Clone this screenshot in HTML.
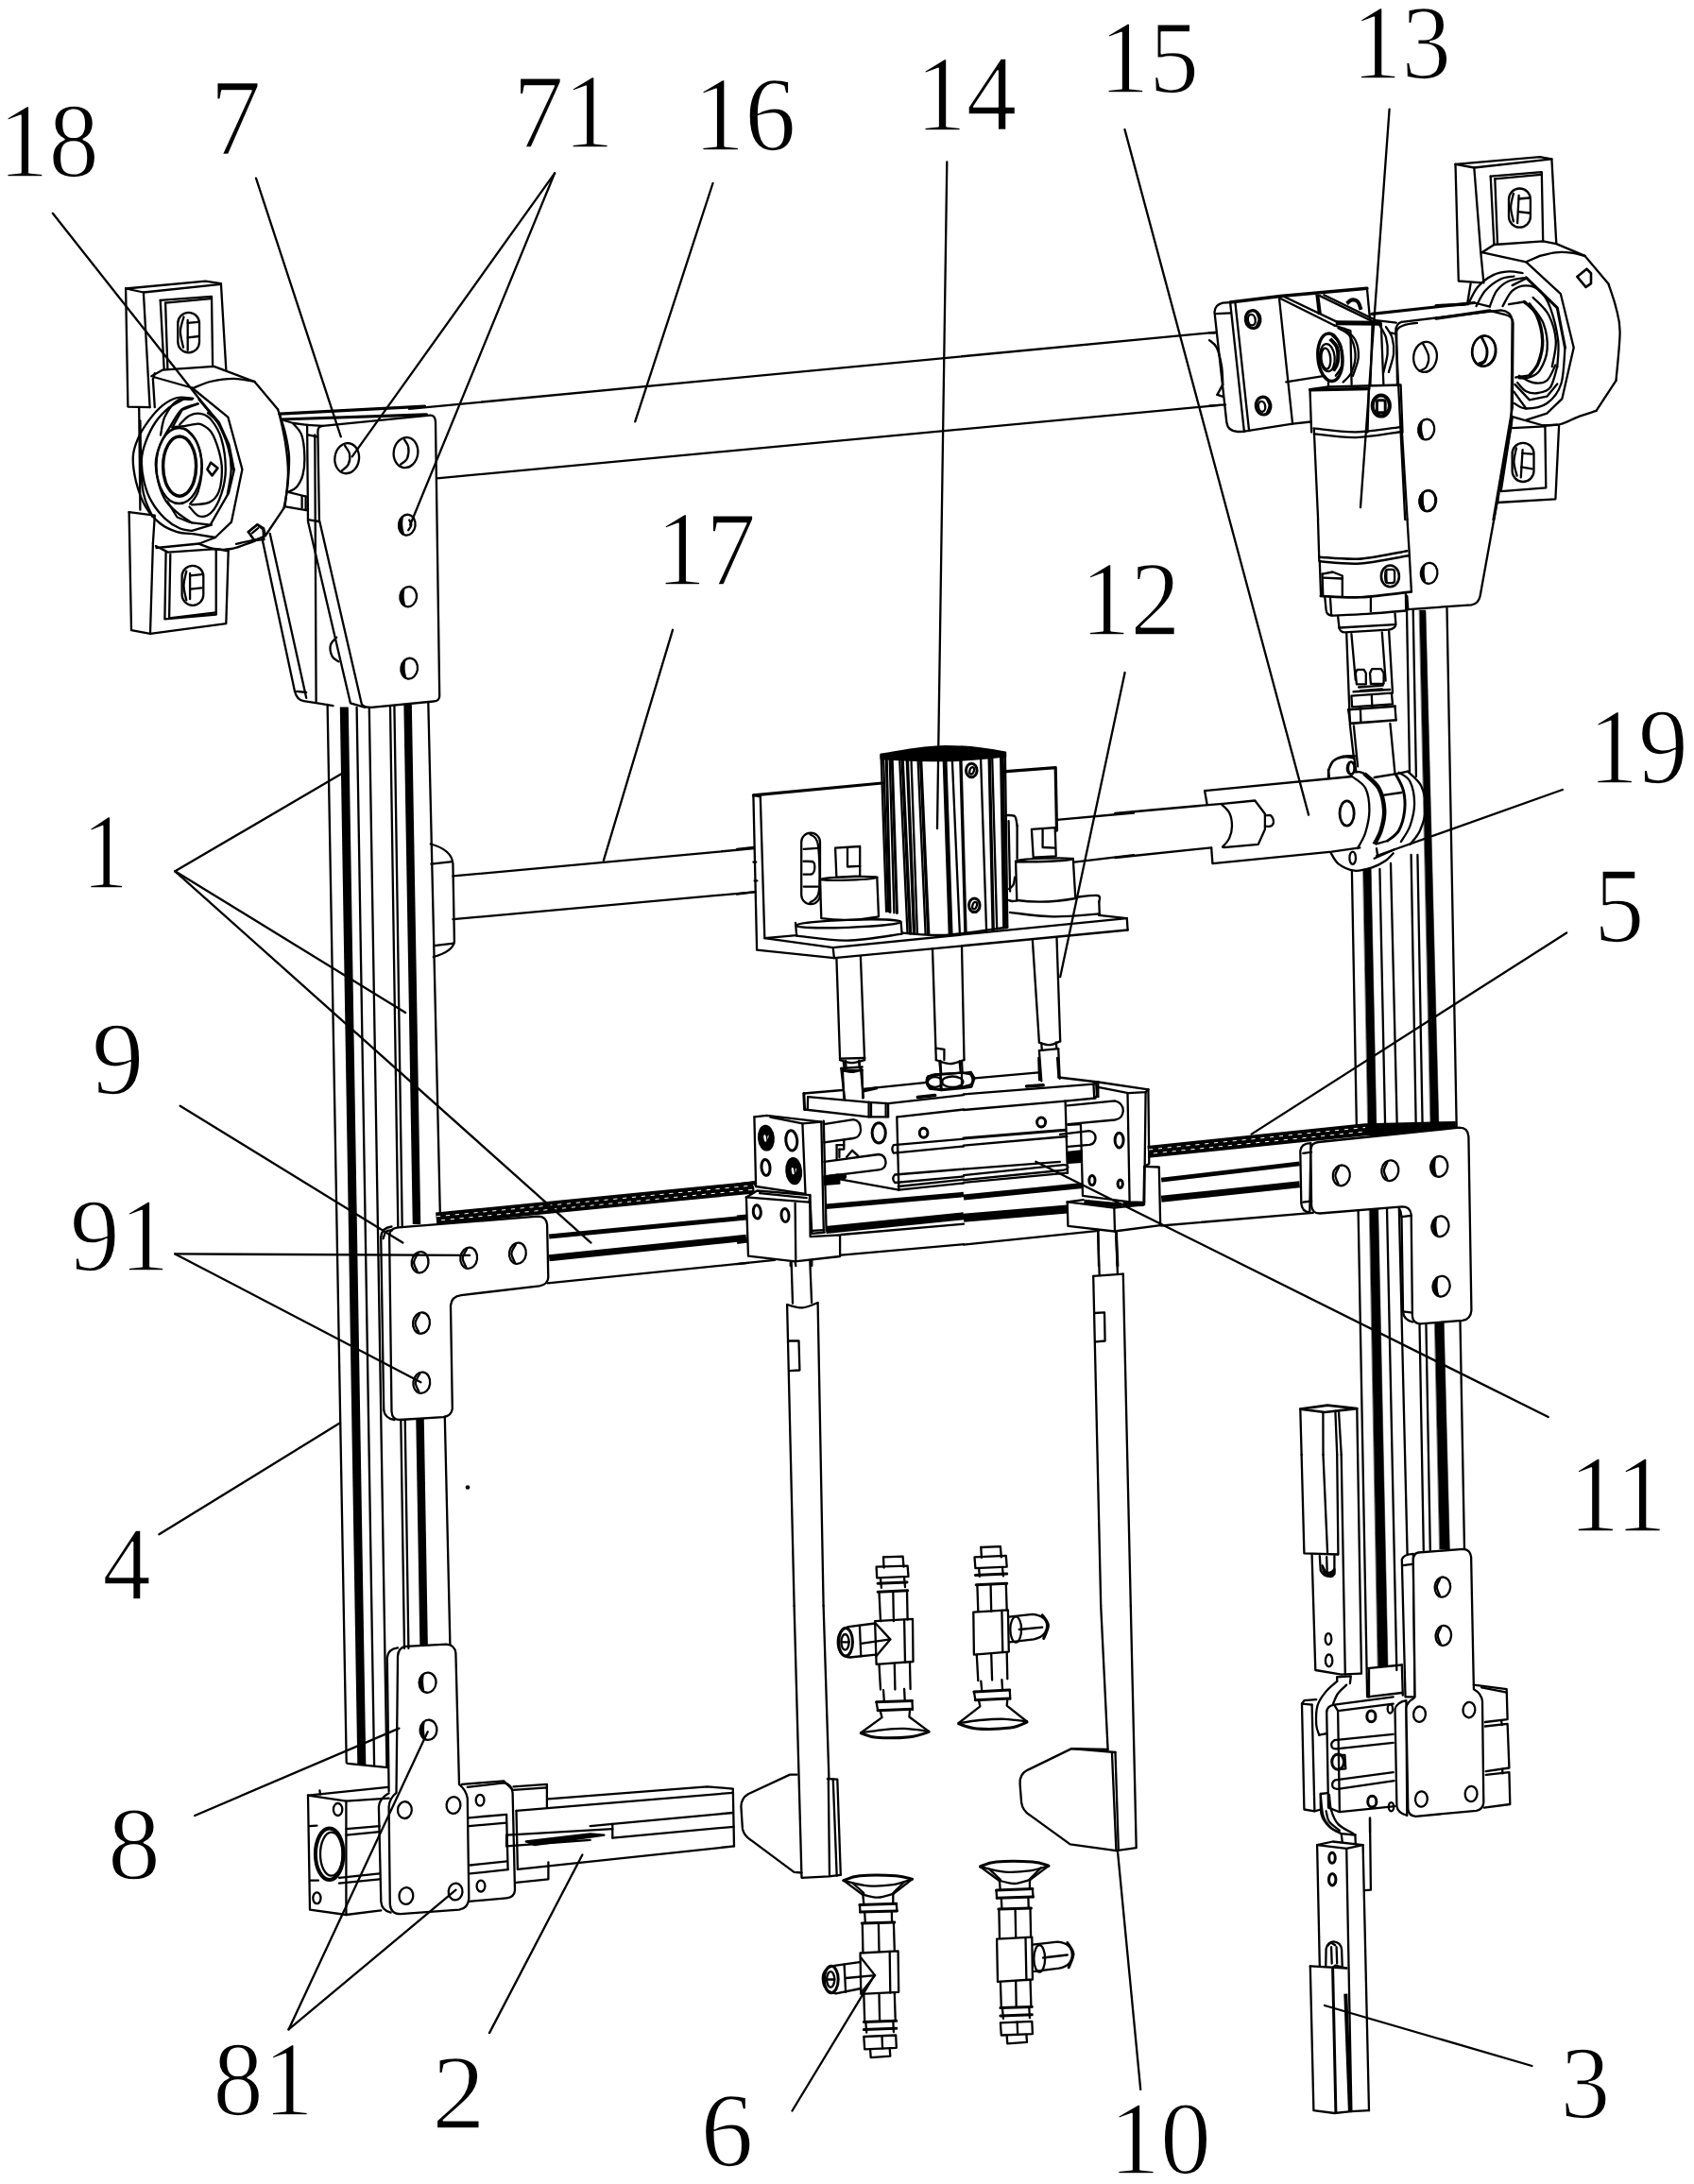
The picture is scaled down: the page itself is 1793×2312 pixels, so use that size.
<!DOCTYPE html>
<html><head><meta charset="utf-8"><title>Figure</title><style>
html,body{margin:0;padding:0;background:#fff}
svg{display:block}
text{font-family:"Liberation Serif",serif;fill:#000;stroke:#fff;stroke-width:1.7px}
</style></head><body>
<svg width="1793" height="2312" viewBox="0 0 1793 2312" fill="none" stroke="#000" stroke-width="2.3" stroke-linecap="round" stroke-linejoin="round">
<!-- 00_long.txt -->
<path d="M433,432.9 L1287.6,351.7"/>
<path d="M462.5,506.3 L1291,428.9"/>
<!-- 01_colL.txt -->
<path d="M346.6,746 L366.7,1866"/>
<path d="M364.3,748.5 L382.8,1868" stroke-width="9" stroke-linecap="butt"/>
<path d="M377.6,749 L396.1,1869"/>
<path d="M390.8,749 L409.4,1870"/>
<path d="M413,747.5 L421.3,1299"/>
<path d="M424.3,1503 L428,1745"/>
<path d="M417.4,747 L425.7,1299"/>
<path d="M428.7,1503 L432.4,1745"/>
<path d="M431.6,745.5 L441,1296" stroke-width="8.5" stroke-linecap="butt"/>
<path d="M444.5,1501 L448.6,1741" stroke-width="8.5" stroke-linecap="butt"/>
<path d="M453.3,743.5 L465.9,1288"/>
<path d="M470.8,1500 L476.4,1741"/>
<path d="M367.9,1866.8 L410.7,1871.2"/>
<!-- 02_colR.txt -->
<path d="M1430.9,922 L1435.9,1194"/>
<path d="M1437.6,1281.5 L1447.1,1795"/>
<path d="M1442.9,920 L1451.2,920 L1456.9,1193 L1448,1193Z" stroke-width="0.5" fill="#000"/>
<path d="M1449.6,1280 L1458.8,1280 L1469,1764 L1458.5,1764Z" stroke-width="0.5" fill="#000"/>
<path d="M1460.4,920 L1466.1,1192"/>
<path d="M1468,1279 L1478.3,1768"/>
<path d="M1472,914 L1478.7,1191"/>
<path d="M1480.8,1278 L1489.7,1650"/>
<path d="M1489,646 L1492,817"/>
<path d="M1493.6,905 L1498.8,1197"/>
<path d="M1502.5,1401 L1506.8,1641"/>
<path d="M1495.7,646 L1498.9,822"/>
<path d="M1500.4,905 L1505.7,1196"/>
<path d="M1509.4,1401 L1513.8,1641"/>
<path d="M1502.5,646 L1509,646 L1523,1195 L1514.3,1195Z" stroke-width="0.5" fill="#000"/>
<path d="M1518.7,1400 L1528.3,1400 L1534.4,1640 L1523.9,1640Z" stroke-width="0.5" fill="#000"/>
<path d="M1531.5,644 L1541.7,1194"/>
<path d="M1545.5,1399 L1550,1640"/>
<!-- 10_bearingL.txt -->
<path d="M160.3,398.2 L171.9,391.7 L226.5,387.8 L269.4,404 L294,433.2"/>
<path d="M164.2,399.5 L203.1,410.5"/>
<path d="M204.4,410.9 C207.4,409.8 215.5,405.7 222.6,404 C229.7,402.3 239.5,400.8 247.3,400.8 C255.1,400.8 265.7,403.5 269.4,404"/>
<path d="M203.1,410.5 L241.4,441.7 L256.4,496.9 L244.9,552.7 L227.8,569 L210.9,575.5 L165.5,580"/>
<path d="M210.9,422.9 L231.7,447.5 L242.1,470.9 L247.3,496.9" stroke-width="3"/>
<path d="M294,433.2 C295.3,437.4 299.8,449.5 301.8,457.9 C303.8,466.4 305.6,474.2 306,483.9 C306.4,493.6 305.1,507.4 304.2,516.4 C303.2,525.3 301.1,534.2 300.5,537.8"/>
<path d="M300.5,537.8 L281,567"/>
<path d="M210.9,575.8 C213.5,576.7 220.9,580.2 226.5,581 C232.1,581.9 238,582.3 244.7,581 C251.4,579.8 262,575.5 266.8,573.8 C271.5,572.1 272.2,571.4 273.2,570.9"/>
<path d="M262.9,563.1 L272.6,555.3 L279.1,559.2 L281,567"/>
<path d="M262.9,563.1 L269.4,572.2 L281,567"/>
<path d="M266.8,564.4 L273.2,559.2"/>
<path d="M204.4,421.8 C201.6,421.7 192.9,419.8 187.5,421 C182.1,422.3 176.9,425.4 171.9,429.4 C167,433.3 162,439.1 157.7,444.9 C153.3,450.8 148.8,457.9 146,464.4 C143.2,470.9 141.1,476.3 140.8,483.9 C140.5,491.5 141.9,501.2 144,509.9 C146.2,518.5 149.5,528.5 153.8,535.8 C158,543.2 163.7,549.5 169.4,554 C175,558.6 181.7,561.3 187.5,563.1 C193.4,565 201.6,564.7 204.4,565.1"/>
<path d="M204.4,565.1 L227.8,569"/>
<path d="M192.7,423.5 C190.3,424.9 183.2,427.9 178.4,431.9 C173.7,436 168.2,441.5 164.2,447.5 C160.1,453.6 156.4,461.8 154,468.3 C151.6,474.8 150.1,479.6 149.9,486.5 C149.6,493.4 150.7,502.5 152.5,509.9 C154.2,517.2 156.6,524.2 160.3,530.6 C163.9,537.1 169.6,544.1 174.5,548.8 C179.5,553.6 185.4,557.1 190.1,559.2 C194.9,561.4 201,561.4 203.1,561.8"/>
<path d="M203.1,561.8 L223.9,555.6"/>
<path d="M209.6,427.4 C206.8,428.4 197.5,429.5 192.7,433.2 C188,437 184.9,443.9 181,450.1 C177.1,456.4 172.1,464.2 169.4,470.9 C166.6,477.6 165,483.5 164.8,490.4 C164.6,497.3 166.2,505.8 168.1,512.5 C169.9,519.2 172.4,525.5 175.8,530.6 C179.3,535.8 184.3,539.8 188.8,543.6 C193.4,547.4 200.7,551.8 203.1,553.4"/>
<path d="M203.1,553.4 L222.6,555.6 L242.1,521.6 L247.9,496.9"/>
<path d="M182.3,452.7 L192.7,433.9 L209.6,427.4"/>
<path d="M203.1,422.9 C200.5,423.1 192.3,421.1 187.5,424.2 C182.8,427.2 177.5,435 174.5,441 C171.6,447.1 170.8,457.3 170,460.5"/>
<path d="M177.1,530.6 L187.5,547.5 L200.5,552.7"/>
<path d="M190.1,449.5 C191.9,447.9 196.6,441.9 200.5,440 C204.4,438.1 209.6,437.2 213.5,438.1 C217.4,438.9 220.4,440.5 223.9,444.9 C227.4,449.3 231.8,455.8 234.3,464.4 C236.8,473.1 238.8,487.1 238.8,496.9 C238.8,506.6 236.8,515.3 234.3,522.9 C231.8,530.4 227.8,538.4 223.9,542.3 C220,546.3 214.8,547.5 210.9,546.5 C207,545.5 202.3,538.2 200.5,536.5"/>
<path d="M220,437.1 C221.7,438.9 226.8,441.5 230.4,447.5 C234,453.6 239,465.3 241.4,473.5 C243.8,481.7 244.8,488.7 244.7,496.9 C244.6,505.1 241.4,518.5 240.8,522.9"/>
<ellipse cx="189.5" cy="493" rx="24" ry="40"/>
<ellipse cx="190.1" cy="493.6" rx="17.5" ry="31.6" stroke-width="3.4"/>
<path d="M182.3,452.2 L194.7,451.2"/>
<path d="M194.7,451.2 C196.5,450.8 202.6,449.4 205.7,449.1 C208.9,448.8 210.5,448 213.5,449.5 C216.5,451 220.9,453.3 223.9,457.9 C226.9,462.6 229.8,470.9 231.7,477.4 C233.5,483.9 234.9,489.7 234.9,496.9 C234.9,504 234,514.4 231.7,520.3 C229.4,526.1 226.1,529.6 221.3,531.9 C216.5,534.3 206.1,533.9 203.1,534.3"/>
<path d="M196.6,454.3 C198.6,456.6 205.5,461.9 208.3,468.3 C211.2,474.8 213.5,484.3 213.8,493 C214,501.6 211.7,513.5 209.6,520.3 C207.5,527 202.6,531.3 201.2,533.5"/>
<path d="M223.2,489.7 L230.4,495.6 L224.5,503.4 L219.4,496.9Z" stroke-width="2.6"/>
<!-- 11_mountL.txt -->
<path d="M133.1,305.5 L217.4,297.7 L233.9,300.1 L239.3,391"/>
<path d="M133.1,305.5 L135.4,430.6 L158.6,431.1"/>
<path d="M133.1,305.5 L151.9,309.5 L233.9,300.8"/>
<path d="M151.9,309.5 L158.6,431.1"/>
<path d="M169.7,317.8 L224,313.8 L225.1,386.7"/>
<path d="M169.7,317.8 L173.7,391"/>
<path d="M175.1,320.6 L223.3,316.1"/>
<path d="M175.1,320.6 L177.4,390.5"/>
<rect x="188.3" y="330.8" width="22.7" height="42.5" rx="11.3"/>
<path d="M198.7,339 L198.7,370.9"/>
<path d="M198.7,341.9 L210.5,340.9"/>
<path d="M198.7,357.4 L210.5,356"/>
<path d="M194.5,335.5 C193.9,338 191,345.4 190.9,350.8 C190.8,356.2 193.5,365 194,367.8"/>
<path d="M161.9,401.6 L163.8,431.1"/>
<path d="M163.8,395.2 L161.9,401.6"/>
<path d="M147.2,431.1 L148.4,539.7"/>
<path d="M148.4,445.3 C148.8,457.1 148.6,499.2 150.8,516.1 C152.9,533 159.6,541.7 161.4,546.8"/>
<path d="M136.6,542.1 L163.8,545.6 L161.9,575.2"/>
<path d="M136.6,542.1 L139,667.2 L159,670.8 L239.3,660.2 L241.7,583.4"/>
<path d="M159,670.8 L161.9,575.2"/>
<path d="M164.9,578 L177.9,584.6 L228.7,581.1 L241.7,583.4"/>
<path d="M175.6,584.6 L174.4,655.4 L228.7,650.7 L228.7,581.1"/>
<path d="M180.3,587 L179.1,654.3"/>
<path d="M179.1,654.3 L228.7,648.4"/>
<rect x="192.6" y="598.8" width="22.7" height="42" rx="11.3"/>
<path d="M201.1,607 L201.1,634.2"/>
<path d="M201.1,609.4 L213.3,608.2"/>
<path d="M201.1,623.6 L213.3,622.4"/>
<path d="M197.3,604.7 C196.8,607.2 194.5,614.9 194.5,620 C194.5,625.1 196.8,632.8 197.3,635.4"/>
<!-- 12_plate7.txt -->
<path d="M295.8,438.1 L449.6,430.2" stroke-width="3.2"/>
<path d="M297.3,444 L451.5,438.8" stroke-width="3.2"/>
<path d="M341.6,450.9 L455.1,439.7 Q460.6,439.4 461,446.7 L465.2,736.1 Q465.6,742.1 458.8,742.5 L392.9,748.9 Q384.6,748.9 382.8,745.2 L337.9,550.2 L336.4,456.8 Q336.4,451.3 341.6,450.9"/>
<path d="M325.1,449.8 L326,552 L370.9,744.3 L386.4,748.9"/>
<path d="M333.3,460.4 L334.6,742.5"/>
<path d="M326,460.4 L336.1,462.3"/>
<path d="M326,550.2 L337.5,552"/>
<path d="M325.1,449.8 L341.6,450.9"/>
<path d="M310.4,448 L325.1,449.8"/>
<path d="M277.5,570.3 L311.9,731.5"/>
<path d="M285.7,564.8 L324.2,738.8"/>
<path d="M311.9,731.5 Q314.1,741 321.4,742.1 L336.1,744.3 L352.6,747.1"/>
<path d="M314.1,731.9 L324.2,733"/>
<path d="M310.4,448.5 C311.9,450.5 317.2,454.8 319.2,460.4 C321.2,466.1 322.1,475.4 322.3,482.4 C322.6,489.4 321.9,497.1 320.5,502.6 C319.1,508.1 316.7,512.3 314.1,515.4 C311.5,518.4 306.5,520 304.9,520.9"/>
<path d="M304.9,520.9 L323.6,525.5"/>
<path d="M302.2,536.4 L324.2,540.1"/>
<path d="M319.6,525.5 L319.6,537.4"/>
<path d="M323.6,525.5 L323.6,540.1"/>
<path d="M297.3,444 L310.4,448"/>
<path d="M295.8,438.5 C296.9,443.7 300.7,459.2 302.2,469.6 C303.7,480 305,489.7 304.9,500.7 C304.9,511.8 302.2,530 301.6,535.9"/>
<path d="M250,575.8 L273.8,570.7"/>
<ellipse cx="367.2" cy="485.2" rx="12.8" ry="16.1" transform="rotate(8 367.2 485.2)"/>
<path d="M365,471.8 C365.8,473.3 369.4,477.3 370,480.6 C370.6,483.9 370.1,488.6 368.7,491.6 C367.3,494.5 362.9,497.2 361.7,498.4"/>
<ellipse cx="429.5" cy="479.1" rx="12.8" ry="16.1" transform="rotate(8 429.5 479.1)"/>
<path d="M427.3,464.5 C428.1,465.9 431.6,469.8 432.2,473.3 C432.8,476.7 432.3,482.1 431,485.2 C429.6,488.2 425.2,490.5 424,491.6"/>
<ellipse cx="430.8" cy="555.7" rx="8.8" ry="11" transform="rotate(8 430.8 555.7)"/>
<ellipse cx="432.2" cy="631.7" rx="8.8" ry="10.6" transform="rotate(8 432.2 631.7)"/>
<ellipse cx="433.2" cy="707.7" rx="8.8" ry="11" transform="rotate(8 433.2 707.7)"/>
<path d="M425.8,547.4 Q419.4,555.7 426.7,564.5 Q424,555.7 425.8,547.4 Z" fill="#000"/>
<path d="M427.3,623.8 Q421.2,631.7 428,640.3 Q425.5,631.7 427.3,623.8 Z" fill="#000"/>
<path d="M428.2,699.8 Q422.2,707.7 428.9,716.3 Q426.4,707.7 428.2,699.8 Z" fill="#000"/>
<path d="M433.2,550.5 C433.5,551.4 435.5,553.9 435.3,555.7 C435.2,557.4 432.8,560.3 432.2,561.2"/>
<path d="M356.2,674.7 C355.2,676.1 350.6,679.6 349.8,683 C349.1,686.3 350.2,692 351.6,694.9 C353.1,697.8 357.3,699.5 358.4,700.4"/>
<path d="M262.8,563 L272,555.3 L278.4,560.3 L279.3,571.2"/>
<path d="M262.8,563 L269.2,572.2 L279.3,571.2"/>
<!-- 20_bearingR.txt -->
<path d="M1540.5,173.8 L1629.9,166.1 L1642.4,168.3 L1647.3,258.1"/>
<path d="M1540.5,173.8 L1543.8,297.5 L1568.6,299.3"/>
<path d="M1540.5,173.8 L1560.3,177.5 L1642.4,168.3"/>
<path d="M1560.3,177.5 L1567.3,267.3 L1570.4,299.3"/>
<path d="M1577.7,186.6 L1631.8,182.1 L1633.2,255.3"/>
<path d="M1577.7,186.6 L1581.4,259"/>
<path d="M1582.3,189.4 L1630.8,184.8"/>
<path d="M1582.3,189.4 L1585,258.1"/>
<rect x="1597" y="199.5" width="22.9" height="41.2" rx="11.4"/>
<path d="M1607.6,206.8 L1606.1,236.1"/>
<path d="M1607.6,210.5 L1618.9,209.5"/>
<path d="M1607,224.2 L1618.9,225.5"/>
<path d="M1601.9,205 C1601.4,207.4 1599.1,214.7 1599.1,219.6 C1599.1,224.5 1601.4,231.8 1601.9,234.3"/>
<path d="M1568.6,267.3 L1581.4,259 L1633.2,255.3 L1647.3,258.1 L1677.6,270.9 L1702.3,300.2"/>
<path d="M1569.5,267.3 L1615.3,277.3 L1629.9,270.9"/>
<path d="M1629.9,270.9 C1632.7,270.3 1640.9,267.8 1646.4,267.3 C1651.9,266.7 1657.7,267 1662.9,267.6 C1668.1,268.2 1675.1,270.4 1677.6,270.9"/>
<path d="M1702.3,300.2 C1703.7,304.5 1708.5,317.3 1710.5,325.9 C1712.6,334.4 1714.6,338.7 1714.6,351.5 C1714.6,364.4 1711.2,394.3 1710.5,402.8"/>
<path d="M1710.5,402.8 L1689.5,434.9"/>
<path d="M1689.5,434.9 C1686.3,436 1676.5,439 1670.2,441.3 C1664,443.7 1658,447.5 1651.9,449 C1645.8,450.5 1636.6,450.2 1633.6,450.5"/>
<path d="M1601.5,441.3 L1633.6,450.5 L1648.3,449.7"/>
<path d="M1615.3,277.3 L1651.9,311.2 L1665.7,368 L1653.4,422.1 L1637.3,437.7 L1615.3,444.6"/>
<path d="M1669.3,292.9 L1679.4,284.7 L1684,289.2 L1684,300.2 L1678.5,303.9Z" stroke-width="2.6"/>
<path d="M1553,322.2 L1556.6,300.2"/>
<path d="M1553.9,322.2 C1555.6,319.2 1559.5,309.1 1564,303.9 C1568.4,298.7 1575,293.8 1580.5,291.1 C1586,288.3 1591.8,287.7 1597,287.4 C1602.1,287.1 1609.2,288.9 1611.6,289.2"/>
<path d="M1562.5,324.1 C1564.1,321.3 1568,312.3 1572.2,307.6 C1576.4,302.8 1582.8,298.2 1587.8,295.7 C1592.8,293.2 1600,293.1 1602.4,292.5"/>
<path d="M1576.8,324.4 C1578,321.7 1580.8,312.4 1584.1,307.9 C1587.5,303.4 1591.8,299.8 1597,297.5 C1602.1,295.1 1612.2,294.4 1615.3,293.8"/>
<path d="M1600.6,302.1 L1615.3,294.7"/>
<path d="M1615.3,293.8 L1648.3,325.9 L1656.5,368" stroke-width="3"/>
<path d="M1590.5,324.1 C1592.2,321.4 1596.5,311.5 1600.6,307.9 C1604.7,304.3 1610.4,302.4 1615.3,302.4 C1620.2,302.4 1625.7,304 1629.9,307.9 C1634.2,311.8 1637.7,317.1 1640.9,325.9 C1644.1,334.7 1647.9,350.3 1649.2,360.7 C1650.4,371.1 1648.4,383.6 1648.3,388.2"/>
<path d="M1656.5,368 C1655.8,374.4 1655.5,396.7 1652.3,406.5 C1649.1,416.3 1643.4,422.7 1637.3,427 C1631.1,431.4 1621,432.5 1615.3,432.5 C1609.5,432.5 1604.9,427.9 1602.8,427"/>
<path d="M1648.3,388.2 C1647,391.8 1644.3,405.5 1640.9,410.2 C1637.6,414.8 1632.4,415.4 1628.1,416 C1623.8,416.7 1618.9,416 1615.3,414.2 C1611.6,412.4 1607.6,406.6 1606.1,405"/>
<path d="M1646.4,386.4 C1644.9,389.1 1641.2,399.7 1637.3,402.8 C1633.3,406 1627.5,405.9 1622.6,405 C1617.7,404.2 1610.4,398.9 1607.9,397.7"/>
<path d="M1603.4,406.9 L1618.9,423.4 L1637.3,419.7 L1648.3,406.5"/>
<path d="M1602.4,414.7 L1615.3,432.5"/>
<path d="M1613.4,319.5 C1615.6,321.8 1623.1,326.3 1626.3,333.2 C1629.5,340.1 1632.4,352.1 1632.7,360.7 C1633,369.3 1630.4,378.4 1628.1,384.5 C1625.8,390.6 1620.5,395.2 1618.9,397.3" stroke-width="3.4"/>
<path d="M1597,322.2 L1613.4,319.5"/>
<path d="M1618.9,321.3 C1621.4,324.8 1630.5,334.3 1633.6,342.4 C1636.7,350.5 1638.2,361.6 1637.6,369.9 C1637,378.1 1633,386.9 1629.9,391.8 C1626.8,396.8 1622.6,398.1 1618.9,399.5 C1615.3,400.9 1609.8,400.2 1607.9,400.3"/>
<path d="M1622.6,314.9 C1625.3,317.9 1635.1,325.6 1639.1,333.2 C1643.1,340.9 1646.2,351.5 1646.8,360.7 C1647.4,369.9 1643.4,383.6 1642.8,388.2"/>
<path d="M1604.3,399.5 L1618.9,397.3"/>
<path d="M1520,337.2 L1576.8,328.8" stroke-width="3.2"/>
<path d="M1520,323.5 L1551.1,322.2" stroke-width="3.2"/>
<path d="M1576.8,328.8 L1593.3,333.2 Q1601.2,335 1601.5,342.4 L1600.8,431.2 L1580.5,550.1"/>
<ellipse cx="1570.9" cy="371.7" rx="12.5" ry="16.1" transform="rotate(5 1570.9 371.7)"/>
<path d="M1568.6,357 C1569.4,359.2 1573,365.8 1573.5,369.9 C1574,373.9 1573.1,378.7 1571.7,381.2 C1570.2,383.7 1566,384.3 1564.9,384.9"/>
<path d="M1600.6,443.1 L1588.7,520.1 L1636.3,516.4 L1635.4,451.4"/>
<path d="M1600.6,453.2 L1635.4,451.4"/>
<path d="M1650.1,450.5 L1646.4,528.3 L1585,532 L1586.3,522.8"/>
<rect x="1600.6" y="468.8" width="22.9" height="41.2" rx="11.4"/>
<path d="M1611.6,476.1 L1609.8,505.4"/>
<path d="M1611.2,479.8 L1621.7,480.7"/>
<path d="M1610.1,494.4 L1621.7,496.3"/>
<path d="M1605,474.3 C1604.6,476.7 1602.4,484.1 1602.4,489 C1602.5,493.8 1605,501.2 1605.6,503.6"/>
<!-- 21_clampR.txt -->
<path d="M1302.1,320.1 L1294.3,320.6 Q1285.8,322.5 1285.5,330.3 L1298.3,447 Q1299.5,456.5 1309.9,457 L1316.9,456.9"/>
<path d="M1287.1,332.2 L1302.7,331.3"/>
<path d="M1302.1,320.1 L1316.9,456.9"/>
<path d="M1307.5,321.2 L1322.1,456.2"/>
<path d="M1302.1,319.9 L1355.3,313.4 L1446.9,305.3" stroke-width="3.5"/>
<path d="M1354,316 L1368.1,448.7"/>
<path d="M1316.9,456.6 L1368.1,448.7 L1387.5,446.5"/>
<ellipse cx="1326.1" cy="338.1" rx="7.8" ry="9.4" transform="rotate(-8 1326.1 338.1)" stroke-width="3.2"/>
<ellipse cx="1337.1" cy="429.6" rx="7.8" ry="9.4" transform="rotate(-8 1337.1 429.6)" stroke-width="3.2"/>
<ellipse cx="1324.8" cy="338.7" rx="3.9" ry="5.8" transform="rotate(-8 1324.8 338.7)"/>
<ellipse cx="1335.6" cy="430.3" rx="3.6" ry="5.5" transform="rotate(-8 1335.6 430.3)"/>
<path d="M1330,330.9 C1330.4,332.1 1332.6,335.7 1332.6,338.1 C1332.6,340.4 1330.4,344 1330,345.2"/>
<path d="M1341,422.5 C1341.5,423.7 1343.6,427.2 1343.6,429.6 C1343.6,432 1341.5,435.6 1341,436.8"/>
<path d="M1359.5,314.2 L1416.4,341.4"/>
<path d="M1355.3,316 L1412.5,344.5"/>
<path d="M1394.3,311.8 L1396.9,332.9" stroke-width="4" stroke-linecap="butt"/>
<path d="M1396.9,313.1 L1452.7,340.1"/>
<path d="M1401.4,312.3 L1454.7,338.3"/>
<path d="M1446.9,305.3 L1450.1,338.8"/>
<path d="M1425.5,321.4 C1426.3,320.8 1428.7,317.9 1430.6,317.5 C1432.6,317.2 1435.5,317.6 1437.1,319.4 C1438.8,321.1 1440,326.5 1440.5,327.9" stroke-width="4" stroke-linecap="butt"/>
<path d="M1413.8,341.7 L1461.8,342.2" stroke-width="5" stroke-linecap="butt"/>
<path d="M1412.5,344.5 L1429.4,350 L1430.6,406.9"/>
<path d="M1452.7,340.6 L1450.4,408.2"/>
<path d="M1416.4,347.4 C1418.3,348.7 1425,350.4 1428.1,354.9 C1431.1,359.4 1434.1,367.9 1434.5,374.4 C1435,380.9 1432.8,388.9 1430.6,393.9 C1428.5,398.9 1423.1,402.8 1421.6,404.5"/>
<path d="M1422.9,347.8 C1424.8,349.8 1432.1,355 1434.5,360.1 C1437,365.2 1438.2,372 1437.8,378.3 C1437.4,384.6 1432.9,394.5 1431.9,397.8"/>
<ellipse cx="1407.9" cy="378.3" rx="13" ry="25.3" transform="rotate(-5 1407.9 378.3)" stroke-width="3.4"/>
<ellipse cx="1404.9" cy="378.6" rx="7.8" ry="14.5" transform="rotate(-5 1404.9 378.6)"/>
<path d="M1407.9,358.8 C1409.1,360.3 1413.8,363.8 1415.1,367.9 C1416.4,372 1416.4,379.4 1415.7,383.5 C1415.1,387.6 1411.9,391.1 1411.2,392.6" stroke-width="4" stroke-linecap="butt"/>
<path d="M1409.9,354.9 C1411.4,356.7 1417.2,360.1 1419,365.3 C1420.7,370.5 1421.1,380.7 1420.3,386.1 C1419.4,391.5 1414.8,395.8 1413.8,397.8"/>
<ellipse cx="1403.4" cy="379.6" rx="4.9" ry="11" transform="rotate(-5 1403.4 379.6)"/>
<path d="M1361.2,404.3 L1402.1,397.8 L1406,403.2 L1406,409.7"/>
<path d="M1386.8,412.7 L1448.8,411.4" stroke-width="3.5"/>
<path d="M1386.5,412.1 L1388.1,457.5"/>
<path d="M1386.5,412.1 L1406,409.5 L1482.6,407.5 L1484.5,457.5"/>
<path d="M1448.8,414 L1447.5,457.5"/>
<ellipse cx="1461.8" cy="429.6" rx="9.1" ry="11" stroke-width="4" stroke-linecap="butt"/>
<rect x="1457.4" y="423.8" width="8.8" height="13" rx="1.9" stroke-width="3"/>
<path d="M1461.8,342.2 L1464.4,407.5"/>
<path d="M1460.5,344.8 C1461.6,346.9 1465.7,352.6 1467,357.5 C1468.4,362.5 1469,368.4 1468.6,374.4 C1468.1,380.5 1465.1,390.6 1464.4,393.9"/>
<path d="M1467,346.1 C1468.1,348 1472.2,352.8 1473.5,357.5 C1474.8,362.3 1475.7,368.4 1475.1,374.4 C1474.5,380.5 1470.7,390.6 1469.9,393.9"/>
<path d="M1500,341.9 Q1480,343.2 1478.1,351 L1479,406.9"/>
<path d="M1472.2,352.3 L1478.2,353.6"/>
<path d="M1280,352.3 L1285.8,352.6"/>
<path d="M1280,360.1 C1281.3,361.4 1285.6,363.4 1287.8,367.9 C1290,372.5 1291.9,380.9 1293,387.4 C1294.1,393.9 1294.1,403.6 1294.3,406.9"/>
<path d="M1288.4,417.9 L1294.3,406.9"/>
<path d="M1288.4,417.9 L1294.5,419.9"/>
<path d="M1280,429.6 L1296.9,428.4"/>
<path d="M1390.9,454.6 L1390.9,457 L1395.1,550"/>
<path d="M1390.4,453.4 C1397.9,454.1 1419.7,457.7 1435.3,457.4 C1450.8,457.2 1475.6,452.7 1483.7,451.8"/>
<path d="M1390.9,459.3 C1398.3,460 1419.8,463.5 1435.3,463.1 C1450.8,462.7 1475.6,458 1483.7,457"/>
<path d="M1483.7,454.6 L1483.9,457 L1489.6,550"/>
<path d="M1451.8,332.3 L1560.4,320.5" stroke-width="3.2"/>
<path d="M1454.2,338.9 L1477.8,341.7"/>
<path d="M1483.7,340.8 L1588.8,328.3 Q1599.4,329.5 1600.6,338.9 L1599.6,449.9 L1581.2,550"/>
<path d="M1483.7,340.8 Q1477.3,342.4 1477.3,350.7 L1487.2,550"/>
<path d="M1560.4,320.5 L1577,324.7"/>
<ellipse cx="1508.5" cy="377.9" rx="12.3" ry="16.1" transform="rotate(8 1508.5 377.9)"/>
<path d="M1506.1,363.7 C1507.1,365.9 1511.4,372.6 1512,376.7 C1512.6,380.8 1511.2,385.8 1509.7,388.5 C1508.1,391.2 1503.8,392 1502.6,392.7"/>
<ellipse cx="1570.4" cy="371.5" rx="12.3" ry="16.1" transform="rotate(8 1570.4 371.5)"/>
<path d="M1568,357.3 C1569,359.4 1573.5,365.4 1574.1,369.6 C1574.8,373.8 1573.3,379.8 1571.8,382.6 C1570.2,385.3 1565.9,385.5 1564.7,386.1"/>
<ellipse cx="1509.7" cy="454.6" rx="8.5" ry="10.9" transform="rotate(8 1509.7 454.6)"/>
<ellipse cx="1510.9" cy="530.2" rx="8.5" ry="10.9" transform="rotate(8 1510.9 530.2)"/>
<path d="M1504.9,446.3 Q1498.6,454.6 1506.1,463.6 Q1502.6,454.6 1504.9,446.3 Z" fill="#000"/>
<path d="M1506.1,521.9 Q1499.5,530.2 1507.3,539.1 Q1503.8,530.2 1506.1,521.9 Z" fill="#000"/>
<!-- 22_cyl13.txt -->
<path d="M1395,550 L1396.3,593.4"/>
<path d="M1489.5,550 L1491.5,582.4 L1493.9,626.4"/>
<path d="M1396.3,589.7 C1403.6,590 1424.4,592.6 1439.9,591.6 C1455.4,590.5 1481.1,584.7 1489.3,583.3" stroke-width="2.6"/>
<path d="M1396.8,594.3 C1404,594.7 1424.2,597.5 1439.9,596.5 C1455.5,595.5 1482.3,589.7 1490.8,588.3" stroke-width="2.6"/>
<path d="M1397.8,631 C1404.8,631.2 1423.9,633 1439.9,632.2 C1455.9,631.5 1484.9,627.4 1493.9,626.4" stroke-width="2.6"/>
<path d="M1396.8,594.3 L1398.1,631"/>
<path d="M1399.6,607.7 L1410.6,605.5 L1420.8,609.5 L1420.8,630.4"/>
<path d="M1399.6,607.7 L1400.3,630.8"/>
<path d="M1400.3,611.7 L1420.8,612.5"/>
<ellipse cx="1471.4" cy="609.9" rx="9.5" ry="11.4" stroke-width="2.6"/>
<rect x="1466.6" y="602.9" width="9.5" height="14.3" rx="2.6"/>
<ellipse cx="1512.6" cy="606.8" rx="8.8" ry="11" transform="rotate(6 1512.6 606.8)"/>
<ellipse cx="1511.3" cy="530.2" rx="8.8" ry="11" transform="rotate(6 1511.3 530.2)"/>
<path d="M1507.3,598.9 Q1501.8,606.8 1508,615 Q1505.5,606.8 1507.3,598.9 Z" fill="#000"/>
<path d="M1506.2,522.3 Q1500.7,530.2 1506.9,538.5 Q1504.4,530.2 1506.2,522.3 Z" fill="#000"/>
<path d="M1467.4,603.5 Q1464.6,609.9 1467.7,616.5 Q1467,609.9 1467.4,603.5 Z" fill="#000"/>
<path d="M1586,523.8 L1566.6,631 Q1564.8,639.2 1557.5,640.3 L1490.3,645.1"/>
<path d="M1489.3,631 L1490.3,645.1"/>
<path d="M1402.3,632.2 L1403.6,645.6 Q1404.2,651.3 1409.7,651.6"/>
<path d="M1409.7,651.6 C1415.9,651.3 1434.2,650.7 1447.2,649.8 C1460.3,649 1481.1,647.1 1487.9,646.5"/>
<path d="M1408,632.8 L1409.1,650.5"/>
<path d="M1450.9,632.2 L1450.9,647.4"/>
<path d="M1487.9,628.2 L1488.2,646.5"/>
<path d="M1416.1,652.4 L1417.5,664.8"/>
<path d="M1417.5,664.8 Q1418.6,669.4 1423.4,669.4 L1469.2,666.7 Q1476.5,665.8 1477.4,661.2 L1476.5,649.3"/>
<path d="M1417.9,664.5 L1476.5,661.2"/>
<path d="M1425.2,670.3 L1428.9,767.4 L1432.9,802.2"/>
<path d="M1430.4,671.2 L1434.8,719.8"/>
<path d="M1462.8,669.4 L1466.6,720.7"/>
<path d="M1470.1,667.6 L1474,733.5"/>
<path d="M1434.8,712.5 L1436.6,708.8 L1443.6,708.8 L1445.8,712.5 L1445.8,724.4 L1435.9,724.4Z"/>
<path d="M1450,712.5 L1452.2,708.1 L1461.9,708.1 L1464.6,712.5 L1464.6,723.8 L1450.9,723.8Z"/>
<path d="M1438.1,727.5 L1463.7,725.6"/>
<path d="M1439.9,731.1 L1462.8,729.3"/>
<path d="M1432.6,732.2 L1471,730" stroke-width="2.6"/>
<path d="M1430.4,736.6 L1472.9,733.7 L1474,745.4 L1431.1,748.4Z"/>
<path d="M1451.8,735.5 L1452.3,746.5"/>
<path d="M1427.1,751.3 L1476.5,747.6" stroke-width="2.6"/>
<path d="M1429.3,765.9 L1477.6,762.3" stroke-width="2.6"/>
<path d="M1427.1,751.3 L1429.3,765.9"/>
<path d="M1476.5,747.6 L1477.6,762.3"/>
<path d="M1439.9,750.2 L1440.4,764.8"/>
<path d="M1432.9,768.5 L1437.1,811.4"/>
<path d="M1471.4,765.9 L1476.5,819"/>
<path d="M1406,815.4 C1406.8,813.9 1408,808.7 1410.6,806.2 C1413.2,803.8 1417.6,801.7 1421.6,800.7 C1425.5,799.8 1432.3,800.4 1434.4,800.4"/>
<path d="M1406,815.4 L1406,822.7"/>
<ellipse cx="1429.8" cy="813.2" rx="4" ry="6.6"/>
<!-- 30_cyl14.txt -->
<path d="M797.4,841.9 L933.7,829" stroke-width="3.2"/>
<path d="M1065.1,816.6 L1117.2,812.6 L1118.5,879.1" stroke-width="3.2"/>
<path d="M797.4,841.9 L801.1,1005.6 L882.9,1014.2"/>
<path d="M804.8,843.4 L809.3,993.2 L881.7,1003.1"/>
<path d="M797.4,841.9 L804.8,843.4"/>
<path d="M809.3,993.2 L843.2,990.2"/>
<path d="M881.7,1003.1 L1192.8,972.1"/>
<path d="M882.9,1014.2 L1193.6,984.5"/>
<path d="M881.7,1003.1 L882.9,1014.2"/>
<path d="M1192.8,972.1 L1193.6,984.5"/>
<path d="M1163.1,968.9 L1192.8,972.1"/>
<path d="M797.4,912.6 L800.3,912.6"/>
<path d="M798.6,932.4 L801.3,932.4"/>
<path d="M780,898.9 L797.9,897"/>
<path d="M780,946.5 L799.3,944.1"/>
<path d="M1118.5,867.9 L1200,860.5"/>
<path d="M1137.1,912.6 L1200,905.1"/>
<path d="M932.6,798.6 C960.3,794.1 980.5,790.1 1000.6,790.1 C1020.8,790.1 1045.9,793.1 1064.1,796.6 L1064.1,800.7 C1040.9,802.7 1020.8,805.2 1000.6,805.2 C980.5,805.2 950.2,804 932.6,803 Z" fill="#000"/>
<path d="M932.6,799.1 L938.1,964.9"/>
<path d="M1063.9,799.1 L1066.3,981.5"/>
<path d="M955.3,987.6 C962.8,987.9 982.1,990.8 1000.6,989.8 C1019.1,988.8 1055.3,982.9 1066.3,981.5"/>
<path d="M935.1,803.2 L940.2,964.9"/>
<path d="M938.3,803.2 L942,965.4" stroke-width="3"/>
<path d="M941.7,803.2 L946.4,966.4"/>
<path d="M944.2,803.2 L949.4,966.4" stroke-width="3"/>
<path d="M952.2,803.7 L960.5,987.8"/>
<path d="M955.1,803.7 L963.5,988" stroke-width="3.4"/>
<path d="M960.3,804.2 L967.6,988.2" stroke-width="3.4"/>
<path d="M964.5,804.2 L970.9,988.4"/>
<path d="M971.6,804.7 L979.6,988.8"/>
<path d="M974.6,804.7 L982.7,989" stroke-width="3.4"/>
<path d="M998.8,805.2 L1004.8,989.4"/>
<path d="M1000.8,805.2 L1006.9,989.4" stroke-width="3.4"/>
<path d="M1007.9,805.2 L1015.9,989"/>
<path d="M1016.9,805.2 L1022,988.4" stroke-width="3.4"/>
<path d="M1038.1,803.7 L1044.1,985.5"/>
<path d="M1047.2,802.7 L1051.2,984.5" stroke-width="3.4"/>
<path d="M1050.2,802.4 L1055.2,983.7"/>
<path d="M1059.2,801.7 L1062.3,982.5"/>
<path d="M1061.3,801.4 L1064.3,982" stroke-width="3"/>
<ellipse cx="1028.3" cy="815.5" rx="5.8" ry="7.3" stroke-width="3"/>
<ellipse cx="1031.3" cy="958.3" rx="5.8" ry="7.3" stroke-width="3"/>
<ellipse cx="1028.6" cy="815.8" rx="2.2" ry="3.8" transform="rotate(20 1028.6 815.8)"/>
<ellipse cx="1031.6" cy="958.6" rx="2.2" ry="3.8" transform="rotate(20 1031.6 958.6)"/>
<ellipse cx="897.8" cy="977.8" rx="55.8" ry="4" transform="rotate(-2 897.8 977.8)"/>
<path d="M842,977 L843.2,990.7"/>
<path d="M953.6,976.3 L954.6,988.2"/>
<path d="M843.2,990.7 C852.1,991.5 878,996 896.5,995.6 C915.1,995.3 944.9,989.9 954.6,988.7"/>
<path d="M868,931.2 L869.3,972.1 Q899,976.3 930,970.3 L928.3,928.7 Z" fill="#fff"/>
<ellipse cx="898.3" cy="929.9" rx="30.3" ry="1.7" transform="rotate(-2 898.3 929.9)" fill="#fff"/>
<path d="M884.1,897.7 L885.4,928.7 L910.2,927.5 L910.2,896 Z" fill="#fff"/>
<path d="M897,897.7 L897,917.5 L910.2,916.8"/>
<rect x="848.2" y="881.6" width="19.8" height="75.6" rx="9.9"/>
<path d="M850.7,898.9 L865.5,897.9"/>
<path d="M850.7,911.8 L859.8,911.8"/>
<path d="M850.7,911.8 C852.3,912 858.6,911.4 860.6,912.6 C862.5,913.7 862.4,916.7 862.3,918.8 C862.2,920.8 861.8,923.8 859.8,925 C857.9,926.1 852.2,925.6 850.7,925.7"/>
<path d="M850.7,938.6 L865.5,938.6"/>
<path d="M857.4,883.1 C858.8,884.9 864.2,883.9 865.8,894 C867.4,904.1 868.2,933.3 866.8,943.6 C865.4,953.8 858.9,953.5 857.4,955.5"/>
<path d="M1065.1,863 C1066.6,863.2 1072.2,862.4 1074.1,864.2 C1076,866.1 1076.1,872.5 1076.6,874.1"/>
<path d="M1076.6,874.1 L1076.6,908.9"/>
<path d="M1067.6,869.2 L1069.1,943.6"/>
<path d="M1068.1,941.1 C1068.9,940.3 1071.6,938.7 1072.6,936.6 C1073.6,934.6 1073.8,930 1074.1,928.7"/>
<path d="M1067.6,953 C1068.2,953.2 1069.9,953.9 1071.3,954 C1072.8,954.1 1075.5,953.6 1076.3,953.5"/>
<path d="M1138.3,949.8 C1142.2,949.5 1157.7,947.2 1161.8,948 C1166,948.9 1163.1,953.6 1163.3,954.7"/>
<path d="M1163.3,954.7 L1163.8,968.4"/>
<path d="M1068.9,965.9 C1076.5,966.6 1098.9,970.1 1114.7,970.3 C1130.6,970.6 1155.7,967.9 1163.8,967.4"/>
<path d="M1075.1,912.6 L1076.3,953 Q1104.8,957.2 1138.3,951 L1135.8,908.9 Z" fill="#fff"/>
<ellipse cx="1105.3" cy="910.3" rx="30.5" ry="1.7" transform="rotate(-2 1105.3 910.3)" fill="#fff"/>
<path d="M1091.9,877.9 L1093.7,907.6 L1117.7,906.4 L1116.7,876.1 Z" fill="#fff"/>
<path d="M1103.6,877.9 L1103.6,897 L1116.7,897.7"/>
<path d="M885.4,1014.2 L889.1,1122.1"/>
<path d="M910.9,1012.5 L915.1,1122.1"/>
<path d="M889.1,1122.1 C891.2,1122.6 897.2,1125.1 901.5,1125.1 C905.8,1125.1 912.9,1122.6 915.1,1122.1"/>
<path d="M892.8,1124.6 L893.6,1130.8"/>
<path d="M909.4,1124.1 L910.2,1130"/>
<path d="M890.3,1131 L912.7,1129.5"/>
<path d="M890.3,1131 L894.1,1164.2"/>
<path d="M910.9,1130 L913.9,1161.8"/>
<path d="M987,1004.3 L990.8,1122.1"/>
<path d="M1018,1001.8 L1020.5,1122.1"/>
<path d="M990.8,1109.7 L999.4,1110.9 L999.4,1122.1"/>
<path d="M990.8,1122.1 C993.2,1122.8 1000.7,1126.1 1005.6,1126.1 C1010.6,1126.1 1018,1122.8 1020.5,1122.1"/>
<path d="M994.5,1124.6 L995.7,1137"/>
<path d="M1015.6,1123.3 L1016.8,1135.7"/>
<path d="M982.1,1139.5 Q979.6,1145.7 984.6,1151.8 L995.7,1153.3 L1018,1150.9 L1028,1148.1 Q1031.7,1141.9 1026.7,1137 L1018,1135.7 L995.7,1137.5 Z"/>
<path d="M995.7,1137.5 L995.7,1153.3"/>
<path d="M1018,1135.7 L1018,1150.9"/>
<path d="M1092.9,995.6 L1099.9,1103.5"/>
<path d="M1118.5,993.2 L1122.2,1102.3"/>
<path d="M1099.9,1103.5 C1101.7,1104 1107.3,1106.4 1111,1106.2 C1114.7,1106 1120.3,1102.9 1122.2,1102.3"/>
<path d="M1102.3,1104.7 L1102.8,1111.7"/>
<path d="M1117.7,1103.5 L1118.5,1110.2"/>
<path d="M1099.9,1112.2 L1120.2,1110.2"/>
<path d="M1099.9,1112.2 L1102.3,1144.4"/>
<path d="M1120.2,1110.2 L1121.7,1141.9"/>
<!-- 31_gripL.txt -->
<path d="M850.8,1157.5 L851.6,1174.5" stroke-width="3"/>
<path d="M850.8,1157.5 L891.9,1154"/>
<path d="M913.2,1152.9 L981.2,1145.8"/>
<path d="M855.1,1161.1 L919.6,1166.8"/>
<path d="M855.1,1161.1 L854.8,1173.6"/>
<path d="M851.6,1174.5 L919.6,1182.3"/>
<path d="M919.6,1166.8 L919.6,1182.3"/>
<path d="M922,1167.5 L922,1182.3"/>
<path d="M937.6,1167.9 L937.6,1182.3"/>
<path d="M940.1,1168.2 L940.1,1182.3"/>
<path d="M919.6,1166.8 L940.1,1168.2"/>
<path d="M919.6,1182.3 L940.1,1182.3"/>
<path d="M940.1,1168.2 L1020,1159.1"/>
<path d="M950,1182.3 L1020,1174.5"/>
<path d="M913.9,1154.7 L927.4,1151.9" stroke-width="3.5"/>
<path d="M971.3,1161.4 L989.7,1159.4" stroke-width="3.5"/>
<path d="M891.9,1133.5 L893.3,1162.5"/>
<path d="M912.5,1132.8 L913.2,1162.5"/>
<path d="M891.9,1133.5 L912.5,1132.8"/>
<path d="M895,1122.8 L895.6,1131.1"/>
<path d="M909.2,1122.6 L909.8,1130.6"/>
<path d="M891.9,1133 C893.6,1133.3 898.4,1135 901.8,1134.9 C905.3,1134.8 910.7,1132.9 912.5,1132.5"/>
<path d="M889.1,1120.7 L915.3,1120"/>
<path d="M981.2,1141.3 Q979.1,1146.9 984,1152.6 L996.8,1154 L1020,1151.9"/>
<path d="M981.2,1141.3 Q984,1137 995.4,1137 L1020,1135.6"/>
<ellipse cx="989.7" cy="1145.5" rx="7.8" ry="5.4"/>
<path d="M995.4,1137 L996.8,1154"/>
<ellipse cx="1008.1" cy="1145.2" rx="11.3" ry="5.7"/>
<path d="M995.4,1122.8 L996.1,1136.3"/>
<path d="M1018,1122.8 L1018.6,1135.6"/>
<path d="M798.4,1182.3 L800.1,1256"/>
<path d="M798.4,1182.3 L811.5,1180.9 L869.5,1187.7"/>
<path d="M815.4,1182.6 L849.4,1189.4 L869.5,1187.7"/>
<path d="M849.4,1189.4 L852.5,1263.4"/>
<path d="M800.1,1256 L852.5,1263.8"/>
<ellipse cx="810.9" cy="1204.7" rx="7.8" ry="12.8" transform="rotate(-5 810.9 1204.7)" fill="#000"/>
<ellipse cx="840.2" cy="1239.7" rx="7.8" ry="13.5" transform="rotate(-5 840.2 1239.7)" fill="#000"/>
<ellipse cx="809.8" cy="1205" rx="2" ry="4.3" transform="rotate(-10 809.8 1205)" stroke-width="1.2" fill="#fff"/>
<ellipse cx="812.9" cy="1203.6" rx="1.1" ry="2.8" transform="rotate(10 812.9 1203.6)" stroke-width="1.2" fill="#fff"/>
<ellipse cx="839.2" cy="1239.7" rx="2" ry="4.3" transform="rotate(-10 839.2 1239.7)" stroke-width="1.2" fill="#fff"/>
<ellipse cx="842.3" cy="1238.7" rx="1.1" ry="2.8" transform="rotate(10 842.3 1238.7)" stroke-width="1.2" fill="#fff"/>
<ellipse cx="837.8" cy="1207.4" rx="6" ry="10.6" transform="rotate(-5 837.8 1207.4)" stroke-width="3"/>
<ellipse cx="810.5" cy="1235.9" rx="4.5" ry="8.5" transform="rotate(-5 810.5 1235.9)" stroke-width="3"/>
<path d="M869.3,1188 L871.8,1302.8"/>
<path d="M871.8,1186.6 L874.6,1302.8"/>
<path d="M857.2,1264.8 L859.3,1305.9 L872.8,1304.5"/>
<path d="M859.3,1302.8 L872.1,1302.1"/>
<path d="M789.9,1267.4 L792,1329.7 L841.6,1335.4 L842.3,1340"/>
<path d="M789.9,1267.4 L801.3,1260.5 L857.2,1265.2 L856.5,1272.7"/>
<path d="M789.9,1267.4 L856.5,1272.7"/>
<path d="M804.1,1263.1 L853.7,1268.1"/>
<path d="M841.6,1273.7 L842.3,1335.4"/>
<path d="M841.6,1335.4 L889.1,1330 L889.1,1307.3 L857.6,1309.1 L857.2,1265.2"/>
<ellipse cx="801.3" cy="1282.9" rx="4" ry="7.1" transform="rotate(-5 801.3 1282.9)" stroke-width="3"/>
<ellipse cx="831" cy="1286.5" rx="4" ry="7.1" transform="rotate(-5 831 1286.5)" stroke-width="3"/>
<path d="M836.7,1340 L836.7,1336.8"/>
<path d="M859.3,1340 L859.3,1333.7"/>
<path d="M780,1254.9 L799.6,1252.6" stroke-width="5" stroke-linecap="butt"/>
<path d="M780,1262 L792,1260.5" stroke-width="5" stroke-linecap="butt"/>
<path d="M780,1288.9 L790.6,1288" stroke-width="5" stroke-linecap="butt"/>
<path d="M780,1314.4 L791.3,1313" stroke-width="5" stroke-linecap="butt"/>
<path d="M780,1338.2 L792,1336.8"/>
<path d="M871.8,1190.1 L903.3,1185.2 Q911.1,1186.3 911.1,1196.5 Q910.3,1203.9 903.3,1205 L872.4,1209.3"/>
<path d="M872.4,1229.8 L930.2,1222 Q937.6,1223.1 937.6,1231.2 Q936.7,1237.9 930.2,1238.4 L873.8,1245.4"/>
<path d="M885.6,1212.1 L885.6,1226.5"/>
<path d="M885.6,1212.1 L893.3,1212.1 L893.3,1206.7"/>
<path d="M888.4,1216.6 L888.4,1225.1"/>
<path d="M888.4,1216.6 L893.3,1216.6 L893.3,1212.1"/>
<path d="M896.2,1224.8 L902.1,1217.8 L908.2,1223.7"/>
<path d="M872.4,1245.4 L887.7,1243.5 L888.4,1252.5 L872.8,1253.9 Z" fill="#000"/>
<ellipse cx="891.9" cy="1245.4" rx="3.1" ry="2" fill="#000"/>
<path d="M887.7,1248.2 L951.4,1259.6"/>
<path d="M949.3,1182.3 L951.4,1259.6"/>
<ellipse cx="930.2" cy="1199.3" rx="7.1" ry="10.6" stroke-width="3"/>
<ellipse cx="977.6" cy="1199.3" rx="4.3" ry="5" stroke-width="3"/>
<path d="M1020,1205.7 L945.8,1212.1 Q942.9,1216.3 945.8,1220.6 L1020,1213.5"/>
<path d="M1020,1237.6 L947.2,1243.5 Q943.2,1247.5 947.2,1252 L1020,1245.4"/>
<path d="M951.4,1259.6 L1020,1252.5"/>
<path d="M950.7,1256 L1020,1248.6"/>
<path d="M950,1210.7 L950,1222"/>
<path d="M874.2,1277.3 L1020,1264.5" stroke-width="5.5" stroke-linecap="butt"/>
<path d="M874.2,1302.1 L1020,1287.2" stroke-width="8" stroke-linecap="butt"/>
<path d="M890.5,1307 L1020,1295.7"/>
<path d="M890.5,1328.6 L1020,1317.2"/>
<!-- 32_gripR.txt -->
<path d="M1019.9,1135.9 L1027.7,1134.9 L1031.5,1141.3 L1028.4,1150.5 L1019.9,1151.9"/>
<path d="M1031.5,1141.3 L1099.3,1135.3"/>
<path d="M1099.3,1120 L1100.1,1143.4"/>
<path d="M1119.1,1120 L1120.5,1140.5"/>
<path d="M1120.5,1140.5 L1162.3,1145.5 L1215.4,1153.3"/>
<path d="M1019.9,1158.3 L1157.4,1147.6"/>
<path d="M1086.5,1150 L1104.2,1148.8" stroke-width="3.5"/>
<path d="M1157.4,1147.6 L1162.3,1145.5"/>
<path d="M1157.4,1147.6 L1158.2,1161.1"/>
<path d="M1160.2,1147.2 L1161,1160.4"/>
<path d="M1019.9,1175 L1127.6,1165.6"/>
<path d="M1127.6,1165.6 L1159.5,1162.5"/>
<path d="M1158.2,1161.1 L1162.3,1160.8"/>
<path d="M1127.6,1165.6 L1129.9,1241.8"/>
<ellipse cx="1102.1" cy="1188" rx="4.5" ry="5.1" stroke-width="3"/>
<path d="M1019.9,1205 L1127.6,1196.2" stroke-width="3"/>
<path d="M1019.9,1212.7 L1129.3,1203"/>
<path d="M1019.9,1237.6 L1121.9,1229.8"/>
<path d="M1019.9,1244.1 L1123.3,1233.3 Q1130.4,1232.6 1130.4,1235.5 Q1130.4,1238.3 1123.3,1239 L1019.9,1249.2"/>
<path d="M1019.9,1251.8 L1130.1,1241.6"/>
<path d="M1129.7,1170.3 L1180,1165.3 Q1188.8,1167.5 1188.8,1176 Q1188.2,1184.5 1180,1185.5 L1130.4,1190.1"/>
<path d="M1121.9,1200.8 L1153.1,1197.2 Q1159.6,1198.6 1159.6,1205 Q1158.8,1211 1153.1,1211.8 L1130.4,1213.8"/>
<path d="M1130.4,1190.8 L1143.9,1190.1"/>
<path d="M1130.4,1219.9 L1144.6,1218.5 L1144.9,1229.8 L1130.7,1230.8 Z" fill="#000"/>
<path d="M1143.9,1190.1 L1146,1265.9 L1195.6,1272.3 L1211.2,1273"/>
<path d="M1193.5,1157.5 L1195.6,1272.3"/>
<path d="M1162.3,1150.9 L1194.2,1157.1 L1212.6,1156.1 L1215.4,1153.3"/>
<path d="M1212.6,1156.1 L1211.2,1273"/>
<path d="M1215.4,1153.3 L1216.3,1231.9 L1211.2,1234.8 L1210.5,1273"/>
<path d="M1162.3,1145.5 L1162.3,1161.1"/>
<ellipse cx="1184.6" cy="1207.1" rx="4.5" ry="7.8" stroke-width="3"/>
<ellipse cx="1155.9" cy="1249.6" rx="3.1" ry="5" stroke-width="3"/>
<ellipse cx="1185.7" cy="1253.2" rx="2.6" ry="4.3" stroke-width="3"/>
<path d="M1129.7,1272.3 L1130.4,1297.8 L1179.3,1303.5 L1228.2,1297.1"/>
<path d="M1129.7,1272.3 L1179.3,1278.7 L1180,1303.5"/>
<path d="M1179.3,1278.7 L1211.2,1275.1"/>
<path d="M1129.7,1272.3 L1146.7,1270.2"/>
<path d="M1147.4,1272.3 L1187.1,1275.9" stroke-width="5" stroke-linecap="butt"/>
<path d="M1188.5,1275.1 L1210.5,1274.4" stroke-width="5" stroke-linecap="butt"/>
<path d="M1211.2,1234.8 L1226.8,1235.5 L1228.2,1297.1"/>
<path d="M1162.3,1303.5 L1163,1340"/>
<path d="M1181.4,1304.2 L1182.9,1340" stroke-width="3"/>
<path d="M1019.9,1267.4 L1146,1254.9" stroke-width="6" stroke-linecap="butt"/>
<path d="M1019.9,1289.3 L1129.7,1280.1" stroke-width="9" stroke-linecap="butt"/>
<path d="M1019.9,1317.6 L1163,1302.8"/>
<!-- 40_tube17.txt -->
<path d="M479.4,927.4 L798.2,898.2"/>
<path d="M479.4,973.2 L798.2,944.3"/>
<path d="M455.8,893.5 Q477.9,899.4 479.4,914.1 L480.9,996.8 Q479.4,1007.1 458.7,1013"/>
<path d="M456.4,914.7 L478.8,912.1"/>
<path d="M459.3,1001.2 L480.3,998.6"/>
<!-- 41_brk9.txt -->
<path d="M421.8,1299.4 L569.4,1287.6 Q578.3,1287.6 579.1,1296.4 L580.3,1352.5 Q579.7,1359.9 570.9,1361.3 L488.2,1371.1 Q477.9,1372.3 477,1382 L478.8,1491.2 Q477.9,1499.2 469.1,1500.1 L423.3,1503 Q415,1503 414.5,1494.2 L412.1,1308.2 Q412.1,1300.2 421.8,1299.4 Z"/>
<path d="M403.2,1309.7 L406.2,1492.7"/>
<path d="M403.2,1309.7 Q404.1,1299.4 414.5,1298.5"/>
<path d="M406.2,1492.7 Q407.1,1501.5 417.4,1503"/>
<path d="M405.6,1311.2 C406.1,1309.9 407,1305.3 408.5,1303.8 C410.1,1302.3 414,1302.6 415,1302.3"/>
<ellipse cx="444.6" cy="1336.3" rx="8.9" ry="11.2" transform="rotate(8 444.6 1336.3)"/>
<ellipse cx="496.2" cy="1331.8" rx="8.9" ry="11.2" transform="rotate(8 496.2 1331.8)"/>
<ellipse cx="547.9" cy="1326.8" rx="8.9" ry="11.2" transform="rotate(8 547.9 1326.8)"/>
<ellipse cx="446" cy="1400.6" rx="8.9" ry="11.2" transform="rotate(8 446 1400.6)"/>
<ellipse cx="446.3" cy="1463.8" rx="8.9" ry="11.2" transform="rotate(8 446.3 1463.8)"/>
<path d="M442.5,1326.8 C441.8,1328.4 438.2,1333.1 438.1,1336.3 C437.9,1339.4 441,1344.1 441.6,1345.7"/>
<path d="M494.1,1322.4 C493.4,1324 489.9,1328.7 489.7,1331.8 C489.6,1335 492.7,1339.7 493.3,1341.3"/>
<path d="M545.8,1317.4 C545.1,1318.9 541.5,1323.7 541.4,1326.8 C541.2,1330 544.3,1334.7 544.9,1336.3"/>
<path d="M444,1391.2 C443.2,1392.7 439.7,1397.5 439.5,1400.6 C439.4,1403.8 442.5,1408.5 443.1,1410"/>
<path d="M444.3,1454.3 C443.5,1455.9 440,1460.6 439.8,1463.8 C439.7,1466.9 442.8,1471.6 443.4,1473.2"/>
<path d="M461.7,1290 L798.2,1257" stroke-width="13" stroke-linecap="butt"/>
<path d="M581.2,1309.1 L789.9,1289" stroke-width="5" stroke-linecap="butt"/>
<path d="M581.2,1331.8 L789.9,1310.3" stroke-width="7" stroke-linecap="butt"/>
<path d="M579.7,1358.4 L820,1333.9"/>
<path d="M462,1287.8 L798,1254.8" stroke="#fff" stroke-width="1" stroke-dasharray="4.2 5.7" stroke-linecap="butt"/>
<path d="M462,1292.2 L798,1259.2" stroke="#fff" stroke-width="1" stroke-dasharray="4.2 5.7" stroke-dashoffset="5" stroke-linecap="butt"/>
<ellipse cx="495" cy="1574.5" rx="1.2" ry="1.2" fill="#000"/>
<!-- 42_brk8.txt -->
<path d="M429.9,1742.8 L472.7,1740.7 Q481.5,1741.3 482.4,1750.2 L486,1888.9 Q493.3,1894.8 494.8,1903.7 L496.3,2009.9 Q495.4,2020.2 486,2021.7 L424,2026.2 Q413.6,2026.2 412.8,2015.8 L411.6,1912.5 Q412.2,1903.7 419.5,1897.8 L421,1753.1 Q421.6,1743.7 429.9,1742.8 Z"/>
<path d="M421,1744.3 Q410.7,1745.7 409.8,1754.6 L411.6,1896.3"/>
<path d="M411.6,1898.3 Q401.8,1903.7 400.9,1912.5 L403.3,2012.9 Q403.9,2022.3 413.6,2024.7"/>
<ellipse cx="452.6" cy="1781.2" rx="8.9" ry="10.6" transform="rotate(5 452.6 1781.2)"/>
<ellipse cx="453.5" cy="1831.3" rx="8.9" ry="10.6" transform="rotate(5 453.5 1831.3)"/>
<ellipse cx="428.4" cy="1916.1" rx="7.4" ry="8.9" transform="rotate(5 428.4 1916.1)"/>
<ellipse cx="480" cy="1911" rx="7.4" ry="8.9" transform="rotate(5 480 1911)"/>
<ellipse cx="429.9" cy="2007" rx="7.4" ry="8.9" transform="rotate(5 429.9 2007)"/>
<ellipse cx="482.1" cy="2002.5" rx="7.4" ry="8.9" transform="rotate(5 482.1 2002.5)"/>
<path d="M447.6,1773.2 Q442.3,1781.2 448.2,1790 Q446.1,1781.2 447.6,1773.2 Z" fill="#000"/>
<path d="M448.5,1823.4 Q443.2,1831.3 449.1,1840.2 Q447,1831.3 448.5,1823.4 Z" fill="#000"/>
<path d="M326,1900.7 L328,2021.7 L366.4,2027 L403.3,2022.3"/>
<path d="M326,1900.7 L410.7,1891.9"/>
<path d="M326,1900.7 L366.4,1906.6 L366.4,2027"/>
<path d="M366.4,1906.6 L411.6,1903.7"/>
<path d="M338.4,1895.4 L339,1899.5"/>
<ellipse cx="348.7" cy="1962.7" rx="14.8" ry="27.2" stroke-width="4" stroke-linecap="butt"/>
<ellipse cx="350.8" cy="1962.7" rx="11.8" ry="23"/>
<ellipse cx="357.6" cy="1915.5" rx="4.7" ry="6.5"/>
<ellipse cx="335.4" cy="2009.3" rx="4.1" ry="5.9"/>
<path d="M366.4,1936.1 L401.8,1933.2"/>
<path d="M366.4,1942.6 L401.8,1939.1"/>
<path d="M359,1987.8 L401.8,1983.4"/>
<path d="M359,1993.7 L401.8,1989.3"/>
<path d="M327.2,1933.2 L335.4,1932.6"/>
<path d="M328,1990.7 L336.9,1990.7"/>
<path d="M494.8,1891.9 L533.2,1887.4 Q542,1888.9 542.6,1897.8 L545,2001.1 Q544.4,2008.4 536.1,2009.3 L496.3,2012.9"/>
<path d="M488.9,1888.9 L533.2,1885.4 L542.6,1894.8"/>
<ellipse cx="508.1" cy="1905.7" rx="4.4" ry="5.9"/>
<ellipse cx="509" cy="1996.6" rx="4.4" ry="5.9"/>
<path d="M496.3,1924.3 L536.1,1920.8"/>
<path d="M496.3,1933.2 L536.1,1929.6"/>
<path d="M497.8,1974.5 L536.7,1970.4"/>
<path d="M497.8,1983.4 L537.6,1979.2"/>
<path d="M536.1,1920.8 L537.6,1979.2"/>
<path d="M543.5,1894.8 L578.9,1892.4 L578.9,1913.1"/>
<path d="M543.5,1891.3 L578.9,1888.9 L578.9,1892.4"/>
<path d="M580.4,1971.5 L580.4,1989.3 L546.5,1992.8"/>
<path d="M580.4,1904.3 L748.6,1891.3 L775.8,1893.6 L777,1954.4"/>
<path d="M546.5,1916.9 L775.8,1897.8"/>
<path d="M648.3,1930.8 L775.8,1919"/>
<path d="M648.3,1945.6 L776.7,1933.8"/>
<path d="M547.9,1978.9 L777,1954.4"/>
<path d="M546.5,1916.9 L547.9,1978.9"/>
<path d="M536.1,1942.6 L648.3,1936.1"/>
<path d="M536.1,1954.4 L624.7,1947.9"/>
<path d="M624.7,1933.2 L648.3,1930.8 L648.3,1945.6"/>
<path d="M536.1,1942.6 L536.1,1954.4"/>
<path d="M556.8,1949.4 L624.7,1941.4 L639.4,1942.6 L565.6,1953 Z" fill="#000"/>
<!-- 50_shaft15.txt -->
<path d="M1180.2,861 L1294,850.8"/>
<path d="M1180.2,908 L1282.2,897.4"/>
<path d="M1292.9,851.3 C1294.2,852.8 1299.3,856.4 1301.1,860.3 C1303,864.1 1304,869.9 1304,874.5 C1304,879 1302.8,883.7 1301.1,887.4 C1299.5,891.1 1295.2,895.1 1294,896.6"/>
<path d="M1294.5,850.8 L1328.3,847.5 L1338.9,861.5 L1338.9,878 L1331.8,893.8 L1295.2,897.1"/>
<path d="M1338.9,863.1 L1344.8,863.1 Q1348.3,866.2 1347.9,870.9 Q1347.2,874.5 1343.6,874.9 L1338.9,874.9"/>
<path d="M1275.1,837.1 L1431,822"/>
<path d="M1275.1,837.1 L1277.5,850.8"/>
<path d="M1282.2,897.6 L1283.4,914.1 L1409.7,901.6 L1439.3,897.4"/>
<ellipse cx="1425.6" cy="861" rx="7.6" ry="13.2" stroke-width="2.8"/>
<path d="M1431,822 C1433.4,824.1 1442.1,828.3 1445.2,834.3 C1448.2,840.3 1449.4,850.1 1449.4,857.9 C1449.4,865.8 1447.2,874.8 1445.2,881.5 C1443.1,888.2 1438.3,895.3 1436.9,898.1"/>
<path d="M1444,819 C1446.5,821.5 1455.8,827.8 1459.3,834.3 C1462.9,840.8 1464.8,850.4 1465.2,857.9 C1465.6,865.4 1463.5,873.2 1461.7,879.2 C1459.9,885.2 1455.8,891.4 1454.6,893.8" stroke-width="4.5" stroke-linecap="butt"/>
<path d="M1434.5,817.3 C1435.4,817.3 1438.4,817 1440,817.3 C1441.5,817.6 1443.3,818.7 1444,819"/>
<path d="M1454.6,823 L1478.2,819.2"/>
<path d="M1477,819.2 C1478.4,822.1 1483.7,830.2 1485.3,836.7 C1486.9,843.1 1487.5,850.8 1486.7,857.9 C1485.9,865 1483.6,873.8 1480.6,879.2 C1477.6,884.5 1470.7,888.2 1468.8,890" stroke-width="3"/>
<path d="M1463.6,841.9 L1483.4,839"/>
<path d="M1457,893.3 L1468.8,890"/>
<path d="M1480.6,817.8 C1482.5,819.4 1489.6,821.7 1492.4,827.2 C1495.1,832.7 1497.1,843 1497.1,850.8 C1497.1,858.7 1494.7,867.8 1492.4,874.5 C1490,881.1 1484.5,888.2 1482.9,891"/>
<path d="M1490,816.6 C1492.4,819.2 1501,825.5 1504.2,831.9 C1507.3,838.4 1509.1,847.7 1508.9,855.6 C1508.7,863.4 1505.8,872.8 1503,879.2 C1500.3,885.5 1494.2,891.4 1492.4,893.8"/>
<path d="M1478.2,819.2 L1490,816.6"/>
<path d="M1406.2,815.4 C1407.2,813.6 1409.1,807.2 1412.1,804.8 C1415.1,802.4 1420.4,801.6 1423.9,801.3 C1427.4,800.9 1431.8,802.4 1433.4,802.7"/>
<ellipse cx="1430.3" cy="813.1" rx="3.3" ry="6.6"/>
<path d="M1406.2,815.4 L1406.9,823"/>
<path d="M1433.4,802.7 L1435.2,815.9"/>
<path d="M1408.6,902.8 C1409.9,904.8 1412.7,911.4 1416.8,914.6 C1421,917.7 1427.4,921 1433.4,921.7 C1439.3,922.3 1446.7,920.1 1452.2,918.4 C1457.8,916.6 1462.7,913.8 1466.4,911.3 C1470.1,908.8 1473.3,904.6 1474.7,903.3"/>
<ellipse cx="1431.7" cy="908.2" rx="3.3" ry="6.6"/>
<path d="M1457,898.1 L1458.1,905.6"/>
<path d="M1454.6,908.7 L1475.9,899.2"/>
<!-- 51_brkR.txt -->
<path d="M1215.1,1219.4 L1445.3,1195.7 L1540.9,1193.4" stroke-width="13" stroke-linecap="butt"/>
<path d="M1229.2,1249.1 L1375.6,1231.9" stroke-width="4.8" stroke-linecap="butt"/>
<path d="M1229.2,1269.2 L1375.6,1253.8" stroke-width="7" stroke-linecap="butt"/>
<path d="M1229.2,1297.5 L1389.8,1283.8"/>
<path d="M1216,1217 L1445,1193.5" stroke="#fff" stroke-width="1" stroke-dasharray="4.2 5.7" stroke-linecap="butt"/>
<path d="M1216,1221.4 L1445,1197.9" stroke="#fff" stroke-width="1" stroke-dasharray="4.2 5.7" stroke-dashoffset="5" stroke-linecap="butt"/>
<path d="M1387.4,1210.1 Q1376.8,1210.6 1376.3,1218.4 L1377.3,1273.9 Q1378,1282.9 1386.3,1283.3 Z" fill="#fff"/>
<path d="M1395.7,1209 L1544.5,1193.6 Q1553.9,1193.6 1554.4,1203.1 L1557.4,1387.2 Q1556.7,1396.7 1548,1397.9 L1503.1,1401.4 Q1495.3,1400.9 1494.9,1393.1 L1493.7,1285.7 Q1492.5,1277.4 1484.3,1277.4 L1396.9,1284.5 Q1388.6,1284.5 1388.1,1276.3 L1387.4,1217.2 Q1387.4,1209.7 1395.7,1209 Z" fill="#fff"/>
<path d="M1379.2,1220.8 L1388.1,1219.6"/>
<path d="M1379.2,1272.7 L1388.1,1271.5"/>
<path d="M1480.7,1278.6 Q1483.1,1282.2 1483.5,1288.1 L1485,1388.4 Q1485.4,1396.7 1494.9,1399.5"/>
<path d="M1483.5,1288.1 L1493.7,1286.9"/>
<path d="M1485,1388.4 L1494.9,1389.6"/>
<ellipse cx="1419.8" cy="1244.4" rx="9" ry="10.9" transform="rotate(8 1419.8 1244.4)"/>
<ellipse cx="1471.3" cy="1239.2" rx="9" ry="10.9" transform="rotate(8 1471.3 1239.2)"/>
<ellipse cx="1523.2" cy="1234.9" rx="9" ry="10.9" transform="rotate(8 1523.2 1234.9)"/>
<ellipse cx="1524.4" cy="1298.2" rx="9" ry="10.9" transform="rotate(8 1524.4 1298.2)"/>
<ellipse cx="1525.6" cy="1361.7" rx="9" ry="10.9" transform="rotate(8 1525.6 1361.7)"/>
<path d="M1417,1235.6 C1416.4,1237.1 1413.5,1241.5 1413.4,1244.4 C1413.3,1247.3 1416,1251.7 1416.5,1253.1"/>
<path d="M1468.4,1230.4 C1467.8,1231.9 1465,1236.3 1464.9,1239.2 C1464.8,1242.1 1467.4,1246.5 1468,1247.9"/>
<path d="M1519,1225.7 Q1512.6,1234.9 1519.7,1244.4 Q1516.8,1234.9 1519,1225.7 Z" fill="#000"/>
<path d="M1520.1,1289 Q1513.8,1298.2 1520.9,1307.7 Q1518,1298.2 1520.1,1289 Z" fill="#000"/>
<path d="M1521.3,1352.5 Q1514.9,1361.7 1522,1371.2 Q1519.2,1361.7 1521.3,1352.5 Z" fill="#000"/>
<!-- 52_brkLR.txt -->
<path d="M1377.6,1540 L1380.4,1644.4 L1416.1,1645.5"/>
<path d="M1400.5,1540 L1405.1,1644.8"/>
<path d="M1415.2,1540 L1416.4,1645.5"/>
<path d="M1419.7,1540 L1423.8,1772.6"/>
<path d="M1437.1,1540 L1441,1771.7"/>
<path d="M1388.6,1646.2 L1392.3,1768 L1419.7,1772.6 L1439.9,1771.7"/>
<path d="M1396.8,1647.1 L1397.8,1662.7 Q1403.3,1672.2 1412.4,1666.4 L1412.4,1647.1"/>
<path d="M1404.2,1648.1 L1404.7,1664.9"/>
<path d="M1399.6,1657.2 Q1400.5,1668.2 1408.8,1669.1 Q1413.3,1668.2 1412.4,1660.9 Q1408.8,1666.4 1403.3,1664.5 Z" fill="#000"/>
<ellipse cx="1406" cy="1735.1" rx="3.3" ry="5.9"/>
<ellipse cx="1406.6" cy="1757.9" rx="3.7" ry="6.4"/>
<path d="M1495.8,1644.8 Q1485.7,1645.3 1483.8,1650.8 L1487.5,1796.4 L1497.6,1796.4 Z" fill="#fff"/>
<path d="M1488.4,1800.1 Q1478.4,1801.9 1476.5,1809.2 L1478.4,1911.8 Q1479.3,1919.1 1489.3,1921.9 Z" fill="#fff"/>
<path d="M1501.2,1643.5 L1548.9,1639.8 Q1556.2,1640.4 1557.1,1648.1 L1559.9,1788.2 Q1568.1,1792.7 1569,1801 L1570.3,1908.1 Q1569.6,1915.5 1562.6,1916.9 L1498.5,1922.8 Q1491.2,1922.4 1490.3,1915.5 L1488.4,1808.3 Q1489,1801.9 1495.8,1798.2 L1497.6,1796.4 L1495.8,1651.7 Q1495.8,1644.4 1501.2,1643.5 Z" fill="#fff"/>
<path d="M1484.8,1657.2 L1494.8,1655.8"/>
<ellipse cx="1526.9" cy="1680.1" rx="8.2" ry="10.6" transform="rotate(5 1526.9 1680.1)"/>
<ellipse cx="1527.8" cy="1731.4" rx="8.2" ry="10.6" transform="rotate(5 1527.8 1731.4)"/>
<ellipse cx="1502.5" cy="1814.7" rx="6.4" ry="8.2" transform="rotate(5 1502.5 1814.7)"/>
<ellipse cx="1554.9" cy="1810.1" rx="6.4" ry="8.2" transform="rotate(5 1554.9 1810.1)"/>
<ellipse cx="1504.4" cy="1904.5" rx="6.4" ry="8.2" transform="rotate(5 1504.4 1904.5)"/>
<ellipse cx="1557.1" cy="1899" rx="6.4" ry="8.2" transform="rotate(5 1557.1 1899)"/>
<path d="M1524.1,1671.5 C1523.6,1672.9 1520.9,1677.2 1520.8,1680.1 C1520.8,1683 1523.3,1687.3 1523.8,1688.7"/>
<path d="M1525.1,1722.8 C1524.5,1724.2 1521.8,1728.5 1521.8,1731.4 C1521.7,1734.3 1524.2,1738.6 1524.7,1740"/>
<path d="M1378,1803.7 L1380.4,1915.5 L1391.4,1917.3 L1398.1,1915.5"/>
<path d="M1378,1803.7 L1380.4,1800.1 L1393.2,1799.2"/>
<path d="M1388.6,1804.7 L1391.4,1917.3"/>
<path d="M1378,1803.7 L1388.6,1804.7"/>
<path d="M1404.2,1812 Q1405.1,1805.6 1412.4,1804.7 L1474.7,1796.4"/>
<path d="M1404.2,1812 L1406,1913.6 L1417.9,1918.2 L1476.5,1912.2"/>
<path d="M1416.1,1811.1 L1417.9,1917.7"/>
<path d="M1412.4,1805.2 L1416.1,1811.1 L1474.7,1803.7"/>
<path d="M1474.7,1835.8 L1412.4,1842.2 Q1407.8,1844.9 1409.7,1849.5 Q1411.5,1851.7 1414.2,1851.4 L1474.7,1844.9"/>
<path d="M1474.7,1876.1 L1413.3,1884.3 Q1408.8,1887.1 1410.6,1891.6 Q1412.4,1894.4 1416.1,1893.8 L1475.6,1885.2"/>
<ellipse cx="1451.4" cy="1816.9" rx="4.6" ry="5.9" stroke-width="3"/>
<ellipse cx="1452.3" cy="1907.2" rx="4.6" ry="5.9" stroke-width="3"/>
<ellipse cx="1416.1" cy="1865.1" rx="6.4" ry="8.2" stroke-width="3"/>
<ellipse cx="1471.4" cy="1808.9" rx="2.7" ry="4.6"/>
<ellipse cx="1472.5" cy="1912.7" rx="2.7" ry="4.6"/>
<path d="M1416.1,1857.8 L1423.4,1857.8 L1424.3,1872.4 L1417,1873"/>
<path d="M1415.2,1779.9 C1413.2,1781.8 1406.7,1786.6 1403.3,1790.9 C1399.8,1795.2 1396.1,1799.8 1394.5,1805.6 C1392.8,1811.4 1392.9,1820.5 1393.2,1825.7 C1393.5,1830.9 1395.8,1834.9 1396.3,1836.7"/>
<path d="M1425.2,1783.6 C1423.7,1785.1 1418.5,1789.4 1416.1,1792.7 C1413.7,1796.1 1411.8,1801.9 1411,1803.7"/>
<path d="M1415.2,1775.3 L1429.8,1774.4 L1428.9,1782.1"/>
<path d="M1415.2,1775.3 L1415.2,1779.9"/>
<path d="M1397.8,1899 C1397.9,1902.6 1397.2,1915.2 1398.7,1921 C1400.2,1926.8 1403.7,1930.6 1406.9,1933.8 C1410.1,1936.9 1416.1,1939 1417.9,1940"/>
<path d="M1403.6,1917.3 C1404.2,1919.1 1404.5,1924.9 1406.9,1928.3 C1409.3,1931.7 1416.1,1936.2 1417.9,1937.8"/>
<path d="M1396.3,1836.7 L1404.2,1835.2"/>
<path d="M1397.8,1899 L1405.1,1898.1"/>
<path d="M1447.2,1766.2 L1483.8,1762.5"/>
<path d="M1449,1766.2 L1449,1796.4"/>
<path d="M1447.2,1796.4 L1483.8,1792"/>
<path d="M1483.8,1762.5 L1484.8,1794.6"/>
<path d="M1559.9,1783.6 L1594.7,1788.2 L1595.6,1820.2 L1571.8,1823"/>
<path d="M1571.8,1827.5 L1595.6,1824.8 L1597.4,1871.5 L1572.7,1875.2"/>
<path d="M1572.7,1878.8 L1597.4,1876.1 L1598.3,1910 L1570.8,1913.6"/>
<path d="M1568.1,1786.3 L1593.7,1791.3"/>
<path d="M1589.2,1822.1 L1589.7,1826.1"/>
<path d="M1590.1,1873 L1590.4,1877.4"/>
<path d="M1450,1924.6 L1450,1940"/>
<path d="M1376.3,1491.6 L1405.1,1487.6 L1436.3,1491.1 L1402,1495Z" stroke-width="2.6"/>
<path d="M1376.3,1491.6 L1377.6,1540"/>
<path d="M1400.4,1495 L1400.5,1540"/>
<path d="M1413.4,1494 L1415.2,1540"/>
<path d="M1417,1494 L1419.7,1540"/>
<path d="M1436.3,1491.1 L1437.1,1540"/>
<!-- 53_cyl3.txt -->
<path d="M1397.8,1900 C1398.2,1903.7 1398.7,1916.2 1400.5,1922 C1402.3,1927.8 1405.5,1931.6 1408.8,1934.8 C1412,1938 1417.9,1940.1 1419.7,1941.2"/>
<path d="M1406.9,1900 C1407.3,1902.7 1407.5,1911.3 1409.1,1916.5 C1410.7,1921.7 1412.5,1927 1416.4,1931.1 C1420.4,1935.3 1429.9,1939.5 1432.6,1941.2"/>
<path d="M1419.7,1941.2 L1420.7,1949.5"/>
<path d="M1434.4,1942.1 L1434.8,1952.2"/>
<path d="M1419.7,1941.2 L1434.4,1942.5"/>
<path d="M1450,1924.7 L1450.9,2000.7 L1445,2001.1"/>
<path d="M1394.1,1953.1 L1396.8,2080.4"/>
<path d="M1394.1,1953.1 L1410.6,1949.5 L1442.6,1953.1 L1425.2,1956.8 L1394.1,1953.1"/>
<path d="M1425.2,1956.8 L1430.4,2235.2"/>
<path d="M1442.6,1953.1 L1449,2234.2"/>
<ellipse cx="1410" cy="1966.8" rx="3.3" ry="5.5" stroke-width="3"/>
<ellipse cx="1410.2" cy="1989.7" rx="3.7" ry="6.2" stroke-width="3"/>
<path d="M1403.3,2080.4 L1403.6,2063 Q1405.1,2055.7 1411.5,2055.3 Q1419.4,2056 1420.1,2063.9 L1420.7,2081.3"/>
<path d="M1409.1,2061.2 L1409.7,2078.6"/>
<path d="M1414.6,2061.2 L1415.2,2078.6"/>
<path d="M1405.5,2059.7 C1406,2059.2 1407.4,2056.8 1408.8,2056.8 C1410.1,2056.7 1412.6,2058.9 1413.3,2059.3"/>
<path d="M1386.8,2081.3 L1390.4,2234.2 L1412.4,2237 L1430.4,2235.2 L1449,2234.2"/>
<path d="M1386.8,2081.3 L1425.2,2083.5"/>
<path d="M1410.6,2083.2 L1413.9,2236.6" stroke-width="3"/>
<path d="M1424.3,2110.6 L1428.9,2235.2" stroke-width="4" stroke-linecap="butt"/>
<path d="M1410.6,2083.2 L1413.3,2080.6 L1425.2,2083.5"/>
<!-- 60_jaws.txt -->
<path d="M837.6,1335.4 L839,1379.7"/>
<path d="M857.3,1334.8 L859.1,1379.1"/>
<path d="M833.1,1381.2 C835.8,1381.7 844,1384.8 849.4,1384.4 C854.8,1384.1 862.9,1380 865.6,1379.1"/>
<path d="M833.1,1381.2 L840.6,1699.9"/>
<path d="M865.6,1379.1 L871.6,1699.9"/>
<path d="M834.6,1419.5 L845.5,1419.5 L846.4,1450.5 L836.1,1451.1"/>
<path d="M1162.2,1304.4 L1163.7,1350.2"/>
<path d="M1181.4,1304.4 L1182.9,1348.7"/>
<path d="M1157.2,1350.8 L1188.8,1348.7"/>
<path d="M1157.2,1350.8 L1165.2,1699.9"/>
<path d="M1188.8,1348.7 L1196.8,1699.9"/>
<path d="M1158.4,1390 L1169,1389.4 L1169.6,1419.5 L1160.2,1420.4"/>
<path d="M840.6,1700 L848.5,1987.8 L877.4,1986.3 L889.8,1984.8"/>
<path d="M871.6,1700 L877.4,1883"/>
<path d="M875.9,1883 L886.3,1883.6 L889.8,1984.8"/>
<path d="M881.8,1884.5 L885.7,1985.7"/>
<path d="M876.8,1883 L878,1985.7"/>
<path d="M843.5,1878.6 L836.1,1878.6 L791.8,1899.2 Q784.4,1903.7 784.4,1912.5 L785.9,1936.1 Q787.4,1943.5 794.8,1947.9 L840.5,1981.9 L848.5,1982.5"/>
<path d="M1165.2,1700 L1172.6,1852"/>
<path d="M1177,1856.4 L1181.4,1958.3"/>
<path d="M1196.8,1700 L1202.7,1956.2 L1181.4,1959.1"/>
<path d="M1180.5,1855 L1183.8,1957.4"/>
<path d="M1172.6,1852 L1134.2,1851.1 L1087,1874.1 Q1078.7,1878.6 1079.6,1888.9 L1081.1,1908.1 Q1082.5,1916.9 1089.9,1921.4 L1132.7,1952.4 L1181.4,1959.1"/>
<path d="M1134.2,1851.1 L1180.5,1855"/>
<!-- 61_cups.txt -->
<path d="M935,1648.3 L955.6,1647.7 L956.5,1658.6"/>
<path d="M935,1648.3 L935.5,1659.5"/>
<path d="M927.6,1658.6 L960.6,1657.7 L961.5,1668.9 L928.2,1670.4Z"/>
<path d="M932,1671.3 L932.9,1680.8"/>
<path d="M957.1,1670.4 L958,1680.2"/>
<path d="M929.1,1676.3 L960,1674.9" stroke-width="3"/>
<path d="M929.1,1685.2 L960.6,1683.7" stroke-width="3"/>
<path d="M930.5,1685.2 L932,1716.2"/>
<path d="M960,1683.7 L960.6,1714.7"/>
<path d="M945.3,1685.2 L945.9,1716.2"/>
<path d="M926.1,1716.2 L966,1713.8 L966.5,1759 L927.6,1761.9Z"/>
<path d="M957.1,1714.7 L958,1759.9"/>
<path d="M926.1,1717.7 L942.3,1735.4 L927.6,1753.1"/>
<path d="M926.1,1718.5 L898.1,1722.1 Q886.3,1725 886.8,1739.8 Q887.7,1753.1 899.5,1754.5 L927,1751.6"/>
<ellipse cx="895.1" cy="1738.3" rx="7.4" ry="14.8" stroke-width="3"/>
<ellipse cx="894.5" cy="1738.3" rx="4.1" ry="8.3"/>
<path d="M890.7,1738.3 L898.7,1738.3"/>
<path d="M909.9,1720.9 L911.3,1753.4"/>
<path d="M911.3,1739.8 L942.3,1735.4"/>
<path d="M1038.3,1638 L1058.9,1637.1 L1059.8,1648.3"/>
<path d="M1038.3,1638 L1038.9,1648.9"/>
<path d="M1031.5,1648.3 L1064.8,1646.8 L1065.7,1658.6 L1032.4,1660.1Z"/>
<path d="M1036.2,1660.7 L1036.8,1668.9"/>
<path d="M1061,1659.5 L1061.9,1668.4"/>
<path d="M1032.4,1667.5 L1065.7,1666" stroke-width="3"/>
<path d="M1033.2,1677.8 L1065.7,1676.3" stroke-width="3"/>
<path d="M1034.4,1678.4 L1035.3,1705.8"/>
<path d="M1064.8,1677.2 L1065.7,1704.4"/>
<path d="M1048.6,1678.4 L1049.2,1705.8"/>
<path d="M1030.3,1706.7 L1066.9,1704.4 L1067.8,1748.6 L1030.9,1751.6Z"/>
<path d="M1060.4,1705 L1061.3,1749.2"/>
<path d="M1067.8,1711.7 L1092.9,1708.8 Q1107.6,1710.3 1108.2,1720.6 Q1108.2,1732.4 1094.3,1735.4 L1068.7,1738.3"/>
<path d="M1103.2,1709.7 C1104.2,1711.5 1109.2,1716.5 1109.4,1720.6 C1109.6,1724.7 1105.5,1732.2 1104.7,1734.5" stroke-width="3"/>
<ellipse cx="1075.2" cy="1725" rx="5.9" ry="13.6"/>
<path d="M1078.7,1725 L1103.2,1722.7"/>
<path d="M930.5,1762 L932,1788.5"/>
<path d="M963,1760.5 L963.6,1788"/>
<path d="M946.8,1762 L947.4,1788.5"/>
<path d="M935,1789.1 L935.8,1800.4"/>
<path d="M957.1,1788 L957.7,1799.8"/>
<path d="M927.6,1801.8 L965.4,1800.4" stroke-width="3"/>
<path d="M929.1,1810.7 L965.4,1809.2" stroke-width="3"/>
<path d="M927.6,1801.8 L929.1,1810.7"/>
<path d="M965.4,1800.4 L966,1809.8"/>
<path d="M932,1812.2 L933.5,1818.1 L911.3,1834.3"/>
<path d="M963,1810.7 L962.4,1817.5 L983.1,1832.8"/>
<path d="M911.3,1834.9 C914.1,1835.6 919,1838.7 927.6,1839.3 C936.2,1840 953.8,1839.7 963,1838.7 C972.2,1837.7 979.7,1834.3 983.1,1833.4" stroke-width="3"/>
<path d="M911.3,1834.3 C915,1833.8 925.9,1832.1 933.5,1831.3 C941.1,1830.6 948.8,1829.6 957.1,1829.9 C965.4,1830.1 978.7,1832.3 983.1,1832.8"/>
<path d="M1033.8,1751.7 L1035.3,1779.1"/>
<path d="M1065.7,1749.6 L1066.3,1777.3"/>
<path d="M1049.2,1750.8 L1050.1,1778.5"/>
<path d="M1038.3,1779.7 L1039.1,1788.5"/>
<path d="M1060.4,1778.2 L1061,1788"/>
<path d="M1030.9,1790.9 L1068.7,1789.1" stroke-width="3"/>
<path d="M1032.4,1799.8 L1068.7,1798" stroke-width="3"/>
<path d="M1030.9,1790.9 L1032.4,1799.8"/>
<path d="M1068.7,1789.1 L1069.3,1798.6"/>
<path d="M1036.2,1800.9 L1037.4,1806.3 L1014.7,1824"/>
<path d="M1066.3,1798.9 L1065.7,1805.7 L1087,1822.5"/>
<path d="M1014.7,1824.9 C1017.8,1825.7 1024.7,1829.2 1033.8,1829.9 C1042.9,1830.6 1060.4,1830.1 1069.3,1829 C1078.1,1827.9 1084,1824.1 1087,1823.1" stroke-width="3"/>
<path d="M1014.7,1824.3 C1018.3,1823.7 1028.7,1821.8 1036.8,1821 C1044.9,1820.3 1055,1819.6 1063.4,1819.8 C1071.7,1820.1 1083,1822 1087,1822.5"/>
<path d="M892.8,1990.7 C895.6,1989.9 900.6,1986.6 909.9,1985.7 C919.1,1984.9 939,1985.1 948.2,1985.7 C957.5,1986.3 962.5,1988.7 965.4,1989.3" stroke-width="3"/>
<path d="M892.8,1990.7 L912.8,2005.5"/>
<path d="M965.4,1989.3 L945.9,2004.6"/>
<path d="M892.8,1990.7 C897.1,1991.7 910,1995.6 918.7,1996.3 C927.5,1997.1 937.5,1996.3 945.3,1995.2 C953.1,1994 962,1990.2 965.4,1989.3"/>
<path d="M902.5,1993.4 L914.3,2004"/>
<path d="M957.1,1992.2 L945.3,2004"/>
<path d="M912.8,2005.5 C915.5,2006 923.5,2008.9 929.1,2008.7 C934.6,2008.6 943.1,2005.3 945.9,2004.6"/>
<path d="M913.4,2006.4 L914.3,2015.8"/>
<path d="M945.3,2005.5 L945.3,2015.2"/>
<path d="M909.9,2016.4 L948.8,2015.2" stroke-width="3"/>
<path d="M910.5,2024.1 L949.4,2022.9" stroke-width="3"/>
<path d="M909.9,2016.4 L910.5,2024.1"/>
<path d="M948.8,2015.2 L949.4,2022.9"/>
<path d="M915.2,2024.7 L915.8,2035"/>
<path d="M943.8,2023.5 L944.1,2034.1"/>
<path d="M912.2,2035.9 L946.8,2035" stroke-width="3"/>
<path d="M912.8,2036.5 L913.4,2066"/>
<path d="M945.9,2035.3 L946.8,2064.5"/>
<path d="M929.9,2036.5 L930.5,2066"/>
<path d="M910.5,2067.5 L950.6,2065.4 L951.2,2108.8 L911.3,2110.9Z"/>
<path d="M941.7,2066 L942.3,2109.7"/>
<path d="M911.3,2072.5 L926.1,2091.1 L912.2,2108.8"/>
<path d="M909.9,2077.2 L883.3,2080.8 Q870,2083.7 870.9,2095.5 Q871.5,2108.8 884.8,2110.3 L911.3,2105"/>
<ellipse cx="879.8" cy="2095.5" rx="7.4" ry="14.2" stroke-width="3"/>
<ellipse cx="879.2" cy="2095.5" rx="4.1" ry="8.3"/>
<path d="M875,2095.5 L883.3,2095.5"/>
<path d="M893.6,2079.6 L895.1,2108.8"/>
<path d="M895.7,2094 L926.1,2091.1"/>
<path d="M914.3,2110.9 L915.2,2139.8"/>
<path d="M946.8,2109.7 L947.7,2138.3"/>
<path d="M930.5,2110.9 L931.1,2139.2"/>
<path d="M914.3,2140.4 L948.8,2139.2" stroke-width="3"/>
<path d="M914.3,2148.6 L948.8,2147.2" stroke-width="3"/>
<path d="M916.4,2141.3 L917.2,2151.6"/>
<path d="M945.3,2139.8 L945.9,2151"/>
<path d="M914.3,2156 L948.2,2154.5 L948.8,2167.8 L915.2,2169.3Z"/>
<path d="M933.5,2155.1 L934.1,2168.7"/>
<path d="M921.1,2169.9 L921.7,2178.2 L942.3,2176.7 L941.7,2168.7"/>
<path d="M1037.4,1976 C1040.2,1975.1 1045.2,1971.8 1054.5,1971 C1063.7,1970.1 1083.6,1970.3 1092.9,1971 C1102.1,1971.6 1107.1,1974.4 1110,1975.1" stroke-width="3"/>
<path d="M1037.4,1976 L1057.4,1990.7"/>
<path d="M1110,1975.1 L1090.5,1989.8"/>
<path d="M1037.4,1976 C1041.7,1976.9 1054.6,1980.8 1063.4,1981.6 C1072.1,1982.3 1082.1,1981.5 1089.9,1980.4 C1097.7,1979.3 1106.6,1976 1110,1975.1"/>
<path d="M1047.1,1978.6 L1058.9,1989.8"/>
<path d="M1101.7,1977.4 L1089.9,1989.3"/>
<path d="M1057.4,1990.7 C1060.2,1991.3 1068.2,1994.1 1073.7,1994 C1079.2,1993.8 1087.7,1990.5 1090.5,1989.8"/>
<path d="M1058,1991.6 L1058.6,1999.6"/>
<path d="M1089.9,1990.7 L1089.9,1998.7"/>
<path d="M1054.5,2001.1 L1092.9,1999.6" stroke-width="3"/>
<path d="M1055.1,2009.3 L1093.5,2008.1" stroke-width="3"/>
<path d="M1054.5,2001.1 L1055.1,2009.3"/>
<path d="M1092.9,1999.6 L1093.5,2008.1"/>
<path d="M1059.8,2009.9 L1060.4,2020.2"/>
<path d="M1088.4,2008.7 L1088.7,2019.4"/>
<path d="M1056.9,2021.1 L1091.4,2020" stroke-width="3"/>
<path d="M1057.4,2021.7 L1058,2051.2"/>
<path d="M1090.5,2020.5 L1091.1,2049.8"/>
<path d="M1074.6,2021.7 L1075.2,2050.6"/>
<path d="M1055.1,2052.7 L1092.3,2050.6 L1092.9,2095.5 L1056,2097.9Z"/>
<path d="M1085.5,2051.2 L1086.4,2096.1"/>
<path d="M1092.9,2058.6 L1119.4,2055.7 Q1134.2,2057.1 1134.8,2068.9 Q1134.8,2080.8 1120.9,2083.7 L1093.5,2087.2"/>
<path d="M1129.8,2056.6 C1130.8,2058.5 1135.7,2064 1136,2068.4 C1136.2,2072.7 1132,2080.4 1131.2,2082.8" stroke-width="3"/>
<ellipse cx="1100.2" cy="2073.4" rx="5.9" ry="14.2"/>
<path d="M1104.1,2072.5 L1129.8,2069.5"/>
<path d="M1058.9,2097.9 L1059.8,2125"/>
<path d="M1090.5,2096.1 L1091.4,2124.4"/>
<path d="M1075.2,2097.3 L1075.7,2125"/>
<path d="M1058.9,2125.6 L1092.3,2124.4" stroke-width="3"/>
<path d="M1058.9,2133.9 L1092.3,2132.7" stroke-width="3"/>
<path d="M1061,2126.5 L1061.9,2136.8"/>
<path d="M1089.3,2125 L1089.9,2136.2"/>
<path d="M1058.9,2141.3 L1092.3,2139.8 L1092.9,2153.1 L1059.8,2154.5Z"/>
<path d="M1076.6,2140.4 L1077.2,2154"/>
<path d="M1065.7,2155.1 L1066.3,2163.4 L1087,2161.9 L1086.4,2154"/>
<!-- 90_leaders.txt -->
<path d="M55.8,225.8 L232,449"/>
<path d="M271,188.6 L360.8,462.3"/>
<path d="M587.1,183.3 L372.7,483.3"/>
<path d="M587.1,183.3 L434.1,555.7"/>
<path d="M754.5,194 L672.2,446.3"/>
<path d="M1002.3,171.4 L992,877"/>
<path d="M1190.5,137.1 L1385.1,862.6"/>
<path d="M1470.6,115.7 L1440,537.2"/>
<path d="M712,666.8 L638.8,911.2"/>
<path d="M1190.6,712 L1122.2,1034.1"/>
<path d="M1653.8,836 L1457,906"/>
<path d="M1658.2,987.5 L1324.6,1200.6"/>
<path d="M1096.4,1229.8 L1638.7,1500"/>
<path d="M185.3,922.3 L362.1,818.7"/>
<path d="M185.3,922.3 L429.2,1072"/>
<path d="M185.3,922.3 L625.5,1315.6"/>
<path d="M190.7,1170.7 L426.3,1315.6"/>
<path d="M185.3,1327.4 L497.1,1328.9"/>
<path d="M185.3,1327.4 L445.4,1463.2"/>
<path d="M168.4,1624.2 L360,1506.3"/>
<path d="M206.2,1922 L422.4,1829.6"/>
<path d="M305.5,2148.4 L452.7,1833.3"/>
<path d="M305.5,2148.4 L482.5,2000.7"/>
<path d="M518,2152.1 L616.4,1963.5"/>
<path d="M838.5,2234.5 L924.6,2092.6"/>
<path d="M1182.9,1959 L1207.2,2211.8"/>
<path d="M1402,2123 L1621.5,2187"/>
<!-- 91_labels.txt -->
<text transform="translate(-1.7 186.5) scale(0.943 1)" font-size="113">18</text>
<text transform="translate(222.6 163.6) scale(0.928 1)" font-size="116.1">7</text>
<text transform="translate(543.2 155.6) scale(0.952 1)" font-size="112">71</text>
<text transform="translate(734 158.9) scale(0.960 1)" font-size="113">16</text>
<text transform="translate(969.3 138.3) scale(0.945 1)" font-size="113.3">14</text>
<text transform="translate(1163.4 98.4) scale(0.960 1)" font-size="110.1">15</text>
<text transform="translate(1431.1 82.8) scale(0.939 1)" font-size="111.8">13</text>
<text transform="translate(694.4 619) scale(0.946 1)" font-size="111.5">17</text>
<text transform="translate(1143.8 672) scale(0.945 1)" font-size="111.8">12</text>
<text transform="translate(1681.2 828.6) scale(0.928 1)" font-size="113.9">19</text>
<text transform="translate(1687.2 996.8) scale(0.927 1)" font-size="114.7">5</text>
<text transform="translate(87.1 940) scale(0.854 1)" font-size="114.2">1</text>
<text transform="translate(97 1158) scale(1.013 1)" font-size="109.6">9</text>
<text transform="translate(74.1 1345.3) scale(0.960 1)" font-size="109.6">91</text>
<text transform="translate(108.4 1692.5) scale(0.940 1)" font-size="109.2">4</text>
<text transform="translate(113.9 1989) scale(1.013 1)" font-size="110.4">8</text>
<text transform="translate(225.6 2238.8) scale(0.947 1)" font-size="112.2">81</text>
<text transform="translate(457.2 2253) scale(1.007 1)" font-size="112">2</text>
<text transform="translate(741.4 2293) scale(0.999 1)" font-size="112.2">6</text>
<text transform="translate(1174.1 2300.8) scale(0.975 1)" font-size="110.6">10</text>
<text transform="translate(1651.6 2241.5) scale(0.966 1)" font-size="109.4">3</text>
<text transform="translate(1660.6 1620.9) scale(0.921 1)" font-size="116.6">11</text>
</svg>
</body></html>
